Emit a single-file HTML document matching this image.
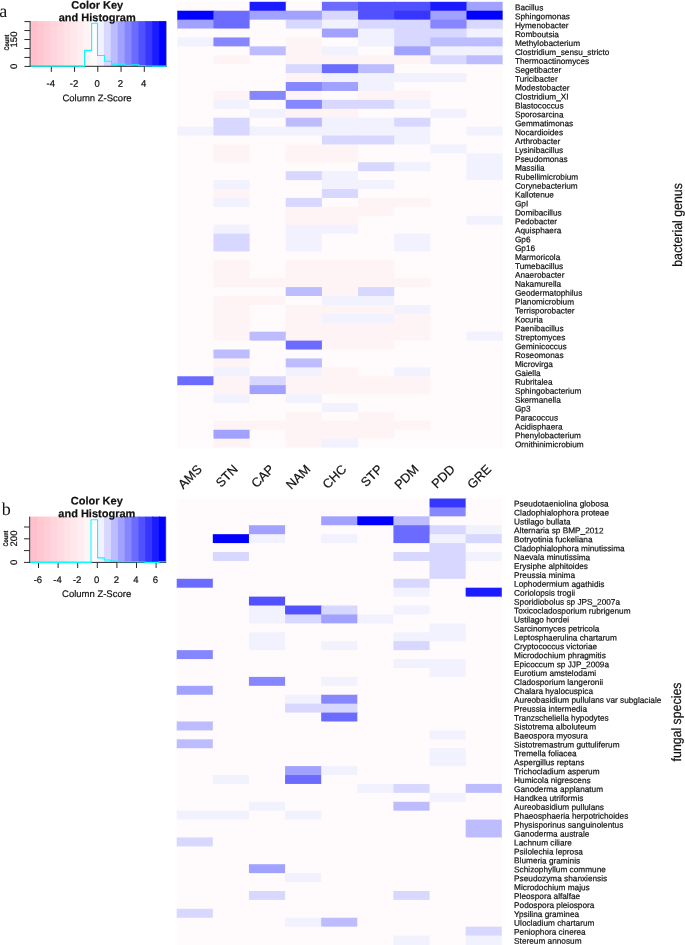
<!DOCTYPE html>
<html lang="en">
<head>
<meta charset="utf-8">
<title>Heatmaps of bacterial genera and fungal species</title>
<style>
html,body{margin:0;padding:0;background:#fff;}
body{width:685px;height:945px;overflow:hidden;}
svg{display:block;font-family:"Liberation Sans",Arial,sans-serif;fill:#111;text-rendering:geometricPrecision;}
svg text{stroke:#111;stroke-width:0.2px;}
.rl text{font-size:8.25px;}
#heat-b-rowlabels text{font-size:8.25px;}
.cl text{font-size:12.7px;}
.tk{font-size:9.5px;}
.cnt{font-size:6.7px;font-weight:bold;}
.ttl{font-size:11px;font-weight:bold;}
.side{font-size:13.5px;}
.pan{font-family:"Liberation Serif","Times New Roman",serif;font-size:18px;stroke:none;}
</style>
</head>
<body>
<figure style="margin:0">
<svg width="685" height="945" viewBox="0 0 685 945">
<rect width="685" height="945" fill="#ffffff"/>
<g id="heat-a-cells">
<rect x="177.30" y="1.80" width="37.15" height="9.92" fill="#fffafb"/>
<rect x="213.45" y="1.80" width="37.15" height="9.92" fill="#fffafb"/>
<rect x="249.60" y="1.80" width="37.15" height="9.92" fill="#1b1bff"/>
<rect x="285.75" y="1.80" width="37.15" height="9.92" fill="#fffafb"/>
<rect x="321.90" y="1.80" width="37.15" height="9.92" fill="#6b6bff"/>
<rect x="358.05" y="1.80" width="37.15" height="9.92" fill="#5151ff"/>
<rect x="394.20" y="1.80" width="37.15" height="9.92" fill="#5151ff"/>
<rect x="430.35" y="1.80" width="37.15" height="9.92" fill="#1b1bff"/>
<rect x="466.50" y="1.80" width="36.15" height="9.92" fill="#a1a1ff"/>
<rect x="177.30" y="10.72" width="37.15" height="9.92" fill="#0000ff"/>
<rect x="213.45" y="10.72" width="37.15" height="9.92" fill="#6b6bff"/>
<rect x="249.60" y="10.72" width="37.15" height="9.92" fill="#a1a1ff"/>
<rect x="285.75" y="10.72" width="37.15" height="9.92" fill="#a1a1ff"/>
<rect x="321.90" y="10.72" width="37.15" height="9.92" fill="#d7d7ff"/>
<rect x="358.05" y="10.72" width="37.15" height="9.92" fill="#5151ff"/>
<rect x="394.20" y="10.72" width="37.15" height="9.92" fill="#3636ff"/>
<rect x="430.35" y="10.72" width="37.15" height="9.92" fill="#a1a1ff"/>
<rect x="466.50" y="10.72" width="36.15" height="9.92" fill="#0000ff"/>
<rect x="177.30" y="19.63" width="37.15" height="9.92" fill="#a1a1ff"/>
<rect x="213.45" y="19.63" width="37.15" height="9.92" fill="#6b6bff"/>
<rect x="249.60" y="19.63" width="37.15" height="9.92" fill="#fffafb"/>
<rect x="285.75" y="19.63" width="37.15" height="9.92" fill="#d7d7ff"/>
<rect x="321.90" y="19.63" width="37.15" height="9.92" fill="#f2f2ff"/>
<rect x="358.05" y="19.63" width="37.15" height="9.92" fill="#d7d7ff"/>
<rect x="394.20" y="19.63" width="37.15" height="9.92" fill="#d7d7ff"/>
<rect x="430.35" y="19.63" width="37.15" height="9.92" fill="#8686ff"/>
<rect x="466.50" y="19.63" width="36.15" height="9.92" fill="#d7d7ff"/>
<rect x="177.30" y="28.55" width="37.15" height="9.92" fill="#fffafb"/>
<rect x="213.45" y="28.55" width="37.15" height="9.92" fill="#fffafb"/>
<rect x="249.60" y="28.55" width="37.15" height="9.92" fill="#fffafb"/>
<rect x="285.75" y="28.55" width="37.15" height="9.92" fill="#fffafb"/>
<rect x="321.90" y="28.55" width="37.15" height="9.92" fill="#a1a1ff"/>
<rect x="358.05" y="28.55" width="37.15" height="9.92" fill="#f2f2ff"/>
<rect x="394.20" y="28.55" width="37.15" height="9.92" fill="#d7d7ff"/>
<rect x="430.35" y="28.55" width="37.15" height="9.92" fill="#d7d7ff"/>
<rect x="466.50" y="28.55" width="36.15" height="9.92" fill="#f2f2ff"/>
<rect x="177.30" y="37.46" width="37.15" height="9.92" fill="#f2f2ff"/>
<rect x="213.45" y="37.46" width="37.15" height="9.92" fill="#8686ff"/>
<rect x="249.60" y="37.46" width="37.15" height="9.92" fill="#fffafb"/>
<rect x="285.75" y="37.46" width="37.15" height="9.92" fill="#fff4f5"/>
<rect x="321.90" y="37.46" width="37.15" height="9.92" fill="#fffafb"/>
<rect x="358.05" y="37.46" width="37.15" height="9.92" fill="#f2f2ff"/>
<rect x="394.20" y="37.46" width="37.15" height="9.92" fill="#d7d7ff"/>
<rect x="430.35" y="37.46" width="37.15" height="9.92" fill="#bcbcff"/>
<rect x="466.50" y="37.46" width="36.15" height="9.92" fill="#bcbcff"/>
<rect x="177.30" y="46.38" width="37.15" height="9.92" fill="#fffafb"/>
<rect x="213.45" y="46.38" width="37.15" height="9.92" fill="#fffafb"/>
<rect x="249.60" y="46.38" width="37.15" height="9.92" fill="#bcbcff"/>
<rect x="285.75" y="46.38" width="37.15" height="9.92" fill="#fff4f5"/>
<rect x="321.90" y="46.38" width="37.15" height="9.92" fill="#f2f2ff"/>
<rect x="358.05" y="46.38" width="37.15" height="9.92" fill="#fffafb"/>
<rect x="394.20" y="46.38" width="37.15" height="9.92" fill="#a1a1ff"/>
<rect x="430.35" y="46.38" width="37.15" height="9.92" fill="#f2f2ff"/>
<rect x="466.50" y="46.38" width="36.15" height="9.92" fill="#f2f2ff"/>
<rect x="177.30" y="55.30" width="37.15" height="9.92" fill="#fffafb"/>
<rect x="213.45" y="55.30" width="37.15" height="9.92" fill="#fff4f5"/>
<rect x="249.60" y="55.30" width="37.15" height="9.92" fill="#fffafb"/>
<rect x="285.75" y="55.30" width="37.15" height="9.92" fill="#fff4f5"/>
<rect x="321.90" y="55.30" width="37.15" height="9.92" fill="#fff4f5"/>
<rect x="358.05" y="55.30" width="37.15" height="9.92" fill="#fff4f5"/>
<rect x="394.20" y="55.30" width="37.15" height="9.92" fill="#fff4f5"/>
<rect x="430.35" y="55.30" width="37.15" height="9.92" fill="#d7d7ff"/>
<rect x="466.50" y="55.30" width="36.15" height="9.92" fill="#bcbcff"/>
<rect x="177.30" y="64.21" width="37.15" height="9.92" fill="#fffafb"/>
<rect x="213.45" y="64.21" width="37.15" height="9.92" fill="#fffafb"/>
<rect x="249.60" y="64.21" width="37.15" height="9.92" fill="#fffafb"/>
<rect x="285.75" y="64.21" width="37.15" height="9.92" fill="#d7d7ff"/>
<rect x="321.90" y="64.21" width="37.15" height="9.92" fill="#6b6bff"/>
<rect x="358.05" y="64.21" width="37.15" height="9.92" fill="#bcbcff"/>
<rect x="394.20" y="64.21" width="37.15" height="9.92" fill="#fffafb"/>
<rect x="430.35" y="64.21" width="37.15" height="9.92" fill="#fffafb"/>
<rect x="466.50" y="64.21" width="36.15" height="9.92" fill="#fffafb"/>
<rect x="177.30" y="73.13" width="37.15" height="9.92" fill="#fffafb"/>
<rect x="213.45" y="73.13" width="37.15" height="9.92" fill="#fffafb"/>
<rect x="249.60" y="73.13" width="37.15" height="9.92" fill="#fffafb"/>
<rect x="285.75" y="73.13" width="37.15" height="9.92" fill="#fff4f5"/>
<rect x="321.90" y="73.13" width="37.15" height="9.92" fill="#f2f2ff"/>
<rect x="358.05" y="73.13" width="37.15" height="9.92" fill="#f2f2ff"/>
<rect x="394.20" y="73.13" width="37.15" height="9.92" fill="#f2f2ff"/>
<rect x="430.35" y="73.13" width="37.15" height="9.92" fill="#f2f2ff"/>
<rect x="466.50" y="73.13" width="36.15" height="9.92" fill="#fffafb"/>
<rect x="177.30" y="82.04" width="37.15" height="9.92" fill="#fffafb"/>
<rect x="213.45" y="82.04" width="37.15" height="9.92" fill="#fffafb"/>
<rect x="249.60" y="82.04" width="37.15" height="9.92" fill="#fffafb"/>
<rect x="285.75" y="82.04" width="37.15" height="9.92" fill="#8686ff"/>
<rect x="321.90" y="82.04" width="37.15" height="9.92" fill="#a1a1ff"/>
<rect x="358.05" y="82.04" width="37.15" height="9.92" fill="#f2f2ff"/>
<rect x="394.20" y="82.04" width="37.15" height="9.92" fill="#fffafb"/>
<rect x="430.35" y="82.04" width="37.15" height="9.92" fill="#fffafb"/>
<rect x="466.50" y="82.04" width="36.15" height="9.92" fill="#fffafb"/>
<rect x="177.30" y="90.96" width="37.15" height="9.92" fill="#fffafb"/>
<rect x="213.45" y="90.96" width="37.15" height="9.92" fill="#fff4f5"/>
<rect x="249.60" y="90.96" width="37.15" height="9.92" fill="#8686ff"/>
<rect x="285.75" y="90.96" width="37.15" height="9.92" fill="#fff4f5"/>
<rect x="321.90" y="90.96" width="37.15" height="9.92" fill="#fffafb"/>
<rect x="358.05" y="90.96" width="37.15" height="9.92" fill="#fff4f5"/>
<rect x="394.20" y="90.96" width="37.15" height="9.92" fill="#fff4f5"/>
<rect x="430.35" y="90.96" width="37.15" height="9.92" fill="#fffafb"/>
<rect x="466.50" y="90.96" width="36.15" height="9.92" fill="#fffafb"/>
<rect x="177.30" y="99.88" width="37.15" height="9.92" fill="#fffafb"/>
<rect x="213.45" y="99.88" width="37.15" height="9.92" fill="#f2f2ff"/>
<rect x="249.60" y="99.88" width="37.15" height="9.92" fill="#fffafb"/>
<rect x="285.75" y="99.88" width="37.15" height="9.92" fill="#8686ff"/>
<rect x="321.90" y="99.88" width="37.15" height="9.92" fill="#d7d7ff"/>
<rect x="358.05" y="99.88" width="37.15" height="9.92" fill="#d7d7ff"/>
<rect x="394.20" y="99.88" width="37.15" height="9.92" fill="#f2f2ff"/>
<rect x="430.35" y="99.88" width="37.15" height="9.92" fill="#fffafb"/>
<rect x="466.50" y="99.88" width="36.15" height="9.92" fill="#fffafb"/>
<rect x="177.30" y="108.79" width="37.15" height="9.92" fill="#fffafb"/>
<rect x="213.45" y="108.79" width="37.15" height="9.92" fill="#fffafb"/>
<rect x="249.60" y="108.79" width="37.15" height="9.92" fill="#f2f2ff"/>
<rect x="285.75" y="108.79" width="37.15" height="9.92" fill="#fff4f5"/>
<rect x="321.90" y="108.79" width="37.15" height="9.92" fill="#fff4f5"/>
<rect x="358.05" y="108.79" width="37.15" height="9.92" fill="#fffafb"/>
<rect x="394.20" y="108.79" width="37.15" height="9.92" fill="#fffafb"/>
<rect x="430.35" y="108.79" width="37.15" height="9.92" fill="#f2f2ff"/>
<rect x="466.50" y="108.79" width="36.15" height="9.92" fill="#fffafb"/>
<rect x="177.30" y="117.71" width="37.15" height="9.92" fill="#fffafb"/>
<rect x="213.45" y="117.71" width="37.15" height="9.92" fill="#d7d7ff"/>
<rect x="249.60" y="117.71" width="37.15" height="9.92" fill="#fffafb"/>
<rect x="285.75" y="117.71" width="37.15" height="9.92" fill="#bcbcff"/>
<rect x="321.90" y="117.71" width="37.15" height="9.92" fill="#f2f2ff"/>
<rect x="358.05" y="117.71" width="37.15" height="9.92" fill="#f2f2ff"/>
<rect x="394.20" y="117.71" width="37.15" height="9.92" fill="#d7d7ff"/>
<rect x="430.35" y="117.71" width="37.15" height="9.92" fill="#fffafb"/>
<rect x="466.50" y="117.71" width="36.15" height="9.92" fill="#fffafb"/>
<rect x="177.30" y="126.62" width="37.15" height="9.92" fill="#f2f2ff"/>
<rect x="213.45" y="126.62" width="37.15" height="9.92" fill="#d7d7ff"/>
<rect x="249.60" y="126.62" width="37.15" height="9.92" fill="#f2f2ff"/>
<rect x="285.75" y="126.62" width="37.15" height="9.92" fill="#f2f2ff"/>
<rect x="321.90" y="126.62" width="37.15" height="9.92" fill="#f2f2ff"/>
<rect x="358.05" y="126.62" width="37.15" height="9.92" fill="#f2f2ff"/>
<rect x="394.20" y="126.62" width="37.15" height="9.92" fill="#f2f2ff"/>
<rect x="430.35" y="126.62" width="37.15" height="9.92" fill="#fffafb"/>
<rect x="466.50" y="126.62" width="36.15" height="9.92" fill="#f2f2ff"/>
<rect x="177.30" y="135.54" width="37.15" height="9.92" fill="#fffafb"/>
<rect x="213.45" y="135.54" width="37.15" height="9.92" fill="#fffafb"/>
<rect x="249.60" y="135.54" width="37.15" height="9.92" fill="#fffafb"/>
<rect x="285.75" y="135.54" width="37.15" height="9.92" fill="#fffafb"/>
<rect x="321.90" y="135.54" width="37.15" height="9.92" fill="#d7d7ff"/>
<rect x="358.05" y="135.54" width="37.15" height="9.92" fill="#d7d7ff"/>
<rect x="394.20" y="135.54" width="37.15" height="9.92" fill="#f2f2ff"/>
<rect x="430.35" y="135.54" width="37.15" height="9.92" fill="#fffafb"/>
<rect x="466.50" y="135.54" width="36.15" height="9.92" fill="#fffafb"/>
<rect x="177.30" y="144.46" width="37.15" height="9.92" fill="#fffafb"/>
<rect x="213.45" y="144.46" width="37.15" height="9.92" fill="#fff4f5"/>
<rect x="249.60" y="144.46" width="37.15" height="9.92" fill="#fffafb"/>
<rect x="285.75" y="144.46" width="37.15" height="9.92" fill="#fff4f5"/>
<rect x="321.90" y="144.46" width="37.15" height="9.92" fill="#fff4f5"/>
<rect x="358.05" y="144.46" width="37.15" height="9.92" fill="#fffafb"/>
<rect x="394.20" y="144.46" width="37.15" height="9.92" fill="#fffafb"/>
<rect x="430.35" y="144.46" width="37.15" height="9.92" fill="#f2f2ff"/>
<rect x="466.50" y="144.46" width="36.15" height="9.92" fill="#fffafb"/>
<rect x="177.30" y="153.37" width="37.15" height="9.92" fill="#fffafb"/>
<rect x="213.45" y="153.37" width="37.15" height="9.92" fill="#fff4f5"/>
<rect x="249.60" y="153.37" width="37.15" height="9.92" fill="#fffafb"/>
<rect x="285.75" y="153.37" width="37.15" height="9.92" fill="#fff4f5"/>
<rect x="321.90" y="153.37" width="37.15" height="9.92" fill="#fff4f5"/>
<rect x="358.05" y="153.37" width="37.15" height="9.92" fill="#fffafb"/>
<rect x="394.20" y="153.37" width="37.15" height="9.92" fill="#fffafb"/>
<rect x="430.35" y="153.37" width="37.15" height="9.92" fill="#fffafb"/>
<rect x="466.50" y="153.37" width="36.15" height="9.92" fill="#f2f2ff"/>
<rect x="177.30" y="162.29" width="37.15" height="9.92" fill="#fffafb"/>
<rect x="213.45" y="162.29" width="37.15" height="9.92" fill="#fffafb"/>
<rect x="249.60" y="162.29" width="37.15" height="9.92" fill="#fffafb"/>
<rect x="285.75" y="162.29" width="37.15" height="9.92" fill="#fffafb"/>
<rect x="321.90" y="162.29" width="37.15" height="9.92" fill="#fffafb"/>
<rect x="358.05" y="162.29" width="37.15" height="9.92" fill="#d7d7ff"/>
<rect x="394.20" y="162.29" width="37.15" height="9.92" fill="#f2f2ff"/>
<rect x="430.35" y="162.29" width="37.15" height="9.92" fill="#fffafb"/>
<rect x="466.50" y="162.29" width="36.15" height="9.92" fill="#f2f2ff"/>
<rect x="177.30" y="171.20" width="37.15" height="9.92" fill="#fffafb"/>
<rect x="213.45" y="171.20" width="37.15" height="9.92" fill="#fffafb"/>
<rect x="249.60" y="171.20" width="37.15" height="9.92" fill="#fffafb"/>
<rect x="285.75" y="171.20" width="37.15" height="9.92" fill="#d7d7ff"/>
<rect x="321.90" y="171.20" width="37.15" height="9.92" fill="#f2f2ff"/>
<rect x="358.05" y="171.20" width="37.15" height="9.92" fill="#fffafb"/>
<rect x="394.20" y="171.20" width="37.15" height="9.92" fill="#fffafb"/>
<rect x="430.35" y="171.20" width="37.15" height="9.92" fill="#fffafb"/>
<rect x="466.50" y="171.20" width="36.15" height="9.92" fill="#f2f2ff"/>
<rect x="177.30" y="180.12" width="37.15" height="9.92" fill="#fffafb"/>
<rect x="213.45" y="180.12" width="37.15" height="9.92" fill="#f2f2ff"/>
<rect x="249.60" y="180.12" width="37.15" height="9.92" fill="#fffafb"/>
<rect x="285.75" y="180.12" width="37.15" height="9.92" fill="#fffafb"/>
<rect x="321.90" y="180.12" width="37.15" height="9.92" fill="#f2f2ff"/>
<rect x="358.05" y="180.12" width="37.15" height="9.92" fill="#f2f2ff"/>
<rect x="394.20" y="180.12" width="37.15" height="9.92" fill="#fffafb"/>
<rect x="430.35" y="180.12" width="37.15" height="9.92" fill="#fffafb"/>
<rect x="466.50" y="180.12" width="36.15" height="9.92" fill="#fffafb"/>
<rect x="177.30" y="189.04" width="37.15" height="9.92" fill="#fffafb"/>
<rect x="213.45" y="189.04" width="37.15" height="9.92" fill="#fff4f5"/>
<rect x="249.60" y="189.04" width="37.15" height="9.92" fill="#fffafb"/>
<rect x="285.75" y="189.04" width="37.15" height="9.92" fill="#fffafb"/>
<rect x="321.90" y="189.04" width="37.15" height="9.92" fill="#d7d7ff"/>
<rect x="358.05" y="189.04" width="37.15" height="9.92" fill="#fffafb"/>
<rect x="394.20" y="189.04" width="37.15" height="9.92" fill="#fffafb"/>
<rect x="430.35" y="189.04" width="37.15" height="9.92" fill="#fffafb"/>
<rect x="466.50" y="189.04" width="36.15" height="9.92" fill="#fffafb"/>
<rect x="177.30" y="197.95" width="37.15" height="9.92" fill="#fffafb"/>
<rect x="213.45" y="197.95" width="37.15" height="9.92" fill="#f2f2ff"/>
<rect x="249.60" y="197.95" width="37.15" height="9.92" fill="#fffafb"/>
<rect x="285.75" y="197.95" width="37.15" height="9.92" fill="#d7d7ff"/>
<rect x="321.90" y="197.95" width="37.15" height="9.92" fill="#fffafb"/>
<rect x="358.05" y="197.95" width="37.15" height="9.92" fill="#fff4f5"/>
<rect x="394.20" y="197.95" width="37.15" height="9.92" fill="#fff4f5"/>
<rect x="430.35" y="197.95" width="37.15" height="9.92" fill="#fffafb"/>
<rect x="466.50" y="197.95" width="36.15" height="9.92" fill="#fffafb"/>
<rect x="177.30" y="206.87" width="37.15" height="9.92" fill="#fffafb"/>
<rect x="213.45" y="206.87" width="37.15" height="9.92" fill="#fffafb"/>
<rect x="249.60" y="206.87" width="37.15" height="9.92" fill="#fffafb"/>
<rect x="285.75" y="206.87" width="37.15" height="9.92" fill="#fff4f5"/>
<rect x="321.90" y="206.87" width="37.15" height="9.92" fill="#fff4f5"/>
<rect x="358.05" y="206.87" width="37.15" height="9.92" fill="#fff4f5"/>
<rect x="394.20" y="206.87" width="37.15" height="9.92" fill="#fffafb"/>
<rect x="430.35" y="206.87" width="37.15" height="9.92" fill="#fffafb"/>
<rect x="466.50" y="206.87" width="36.15" height="9.92" fill="#fffafb"/>
<rect x="177.30" y="215.78" width="37.15" height="9.92" fill="#fffafb"/>
<rect x="213.45" y="215.78" width="37.15" height="9.92" fill="#fffafb"/>
<rect x="249.60" y="215.78" width="37.15" height="9.92" fill="#fffafb"/>
<rect x="285.75" y="215.78" width="37.15" height="9.92" fill="#fff4f5"/>
<rect x="321.90" y="215.78" width="37.15" height="9.92" fill="#fff4f5"/>
<rect x="358.05" y="215.78" width="37.15" height="9.92" fill="#fffafb"/>
<rect x="394.20" y="215.78" width="37.15" height="9.92" fill="#fffafb"/>
<rect x="430.35" y="215.78" width="37.15" height="9.92" fill="#fffafb"/>
<rect x="466.50" y="215.78" width="36.15" height="9.92" fill="#f2f2ff"/>
<rect x="177.30" y="224.70" width="37.15" height="9.92" fill="#fffafb"/>
<rect x="213.45" y="224.70" width="37.15" height="9.92" fill="#f2f2ff"/>
<rect x="249.60" y="224.70" width="37.15" height="9.92" fill="#fffafb"/>
<rect x="285.75" y="224.70" width="37.15" height="9.92" fill="#f2f2ff"/>
<rect x="321.90" y="224.70" width="37.15" height="9.92" fill="#f2f2ff"/>
<rect x="358.05" y="224.70" width="37.15" height="9.92" fill="#fffafb"/>
<rect x="394.20" y="224.70" width="37.15" height="9.92" fill="#fffafb"/>
<rect x="430.35" y="224.70" width="37.15" height="9.92" fill="#fffafb"/>
<rect x="466.50" y="224.70" width="36.15" height="9.92" fill="#fffafb"/>
<rect x="177.30" y="233.62" width="37.15" height="9.92" fill="#fffafb"/>
<rect x="213.45" y="233.62" width="37.15" height="9.92" fill="#d7d7ff"/>
<rect x="249.60" y="233.62" width="37.15" height="9.92" fill="#fffafb"/>
<rect x="285.75" y="233.62" width="37.15" height="9.92" fill="#f2f2ff"/>
<rect x="321.90" y="233.62" width="37.15" height="9.92" fill="#fffafb"/>
<rect x="358.05" y="233.62" width="37.15" height="9.92" fill="#fffafb"/>
<rect x="394.20" y="233.62" width="37.15" height="9.92" fill="#f2f2ff"/>
<rect x="430.35" y="233.62" width="37.15" height="9.92" fill="#fffafb"/>
<rect x="466.50" y="233.62" width="36.15" height="9.92" fill="#fffafb"/>
<rect x="177.30" y="242.53" width="37.15" height="9.92" fill="#fffafb"/>
<rect x="213.45" y="242.53" width="37.15" height="9.92" fill="#d7d7ff"/>
<rect x="249.60" y="242.53" width="37.15" height="9.92" fill="#fffafb"/>
<rect x="285.75" y="242.53" width="37.15" height="9.92" fill="#f2f2ff"/>
<rect x="321.90" y="242.53" width="37.15" height="9.92" fill="#fffafb"/>
<rect x="358.05" y="242.53" width="37.15" height="9.92" fill="#fffafb"/>
<rect x="394.20" y="242.53" width="37.15" height="9.92" fill="#f2f2ff"/>
<rect x="430.35" y="242.53" width="37.15" height="9.92" fill="#fffafb"/>
<rect x="466.50" y="242.53" width="36.15" height="9.92" fill="#fffafb"/>
<rect x="177.30" y="251.45" width="37.15" height="9.92" fill="#fffafb"/>
<rect x="213.45" y="251.45" width="37.15" height="9.92" fill="#fffafb"/>
<rect x="249.60" y="251.45" width="37.15" height="9.92" fill="#fffafb"/>
<rect x="285.75" y="251.45" width="37.15" height="9.92" fill="#fffafb"/>
<rect x="321.90" y="251.45" width="37.15" height="9.92" fill="#fffafb"/>
<rect x="358.05" y="251.45" width="37.15" height="9.92" fill="#fffafb"/>
<rect x="394.20" y="251.45" width="37.15" height="9.92" fill="#fffafb"/>
<rect x="430.35" y="251.45" width="37.15" height="9.92" fill="#fffafb"/>
<rect x="466.50" y="251.45" width="36.15" height="9.92" fill="#fffafb"/>
<rect x="177.30" y="260.36" width="37.15" height="9.92" fill="#fffafb"/>
<rect x="213.45" y="260.36" width="37.15" height="9.92" fill="#fff4f5"/>
<rect x="249.60" y="260.36" width="37.15" height="9.92" fill="#fffafb"/>
<rect x="285.75" y="260.36" width="37.15" height="9.92" fill="#fff4f5"/>
<rect x="321.90" y="260.36" width="37.15" height="9.92" fill="#fff4f5"/>
<rect x="358.05" y="260.36" width="37.15" height="9.92" fill="#fff4f5"/>
<rect x="394.20" y="260.36" width="37.15" height="9.92" fill="#fffafb"/>
<rect x="430.35" y="260.36" width="37.15" height="9.92" fill="#fffafb"/>
<rect x="466.50" y="260.36" width="36.15" height="9.92" fill="#fffafb"/>
<rect x="177.30" y="269.28" width="37.15" height="9.92" fill="#fffafb"/>
<rect x="213.45" y="269.28" width="37.15" height="9.92" fill="#fff4f5"/>
<rect x="249.60" y="269.28" width="37.15" height="9.92" fill="#fffafb"/>
<rect x="285.75" y="269.28" width="37.15" height="9.92" fill="#fff4f5"/>
<rect x="321.90" y="269.28" width="37.15" height="9.92" fill="#fff4f5"/>
<rect x="358.05" y="269.28" width="37.15" height="9.92" fill="#fff4f5"/>
<rect x="394.20" y="269.28" width="37.15" height="9.92" fill="#fffafb"/>
<rect x="430.35" y="269.28" width="37.15" height="9.92" fill="#fffafb"/>
<rect x="466.50" y="269.28" width="36.15" height="9.92" fill="#fffafb"/>
<rect x="177.30" y="278.20" width="37.15" height="9.92" fill="#fffafb"/>
<rect x="213.45" y="278.20" width="37.15" height="9.92" fill="#fff4f5"/>
<rect x="249.60" y="278.20" width="37.15" height="9.92" fill="#fff4f5"/>
<rect x="285.75" y="278.20" width="37.15" height="9.92" fill="#fff4f5"/>
<rect x="321.90" y="278.20" width="37.15" height="9.92" fill="#fff4f5"/>
<rect x="358.05" y="278.20" width="37.15" height="9.92" fill="#fff4f5"/>
<rect x="394.20" y="278.20" width="37.15" height="9.92" fill="#fff4f5"/>
<rect x="430.35" y="278.20" width="37.15" height="9.92" fill="#fffafb"/>
<rect x="466.50" y="278.20" width="36.15" height="9.92" fill="#fffafb"/>
<rect x="177.30" y="287.11" width="37.15" height="9.92" fill="#fffafb"/>
<rect x="213.45" y="287.11" width="37.15" height="9.92" fill="#fffafb"/>
<rect x="249.60" y="287.11" width="37.15" height="9.92" fill="#fffafb"/>
<rect x="285.75" y="287.11" width="37.15" height="9.92" fill="#bcbcff"/>
<rect x="321.90" y="287.11" width="37.15" height="9.92" fill="#fff4f5"/>
<rect x="358.05" y="287.11" width="37.15" height="9.92" fill="#d7d7ff"/>
<rect x="394.20" y="287.11" width="37.15" height="9.92" fill="#fffafb"/>
<rect x="430.35" y="287.11" width="37.15" height="9.92" fill="#fffafb"/>
<rect x="466.50" y="287.11" width="36.15" height="9.92" fill="#fffafb"/>
<rect x="177.30" y="296.03" width="37.15" height="9.92" fill="#fffafb"/>
<rect x="213.45" y="296.03" width="37.15" height="9.92" fill="#fff4f5"/>
<rect x="249.60" y="296.03" width="37.15" height="9.92" fill="#fff4f5"/>
<rect x="285.75" y="296.03" width="37.15" height="9.92" fill="#fffafb"/>
<rect x="321.90" y="296.03" width="37.15" height="9.92" fill="#f2f2ff"/>
<rect x="358.05" y="296.03" width="37.15" height="9.92" fill="#f2f2ff"/>
<rect x="394.20" y="296.03" width="37.15" height="9.92" fill="#fffafb"/>
<rect x="430.35" y="296.03" width="37.15" height="9.92" fill="#fffafb"/>
<rect x="466.50" y="296.03" width="36.15" height="9.92" fill="#fffafb"/>
<rect x="177.30" y="304.94" width="37.15" height="9.92" fill="#fffafb"/>
<rect x="213.45" y="304.94" width="37.15" height="9.92" fill="#fff4f5"/>
<rect x="249.60" y="304.94" width="37.15" height="9.92" fill="#fffafb"/>
<rect x="285.75" y="304.94" width="37.15" height="9.92" fill="#fff4f5"/>
<rect x="321.90" y="304.94" width="37.15" height="9.92" fill="#fff4f5"/>
<rect x="358.05" y="304.94" width="37.15" height="9.92" fill="#fff4f5"/>
<rect x="394.20" y="304.94" width="37.15" height="9.92" fill="#f2f2ff"/>
<rect x="430.35" y="304.94" width="37.15" height="9.92" fill="#fffafb"/>
<rect x="466.50" y="304.94" width="36.15" height="9.92" fill="#fffafb"/>
<rect x="177.30" y="313.86" width="37.15" height="9.92" fill="#fffafb"/>
<rect x="213.45" y="313.86" width="37.15" height="9.92" fill="#fff4f5"/>
<rect x="249.60" y="313.86" width="37.15" height="9.92" fill="#fffafb"/>
<rect x="285.75" y="313.86" width="37.15" height="9.92" fill="#fff4f5"/>
<rect x="321.90" y="313.86" width="37.15" height="9.92" fill="#f2f2ff"/>
<rect x="358.05" y="313.86" width="37.15" height="9.92" fill="#f2f2ff"/>
<rect x="394.20" y="313.86" width="37.15" height="9.92" fill="#fff4f5"/>
<rect x="430.35" y="313.86" width="37.15" height="9.92" fill="#fffafb"/>
<rect x="466.50" y="313.86" width="36.15" height="9.92" fill="#fffafb"/>
<rect x="177.30" y="322.78" width="37.15" height="9.92" fill="#fffafb"/>
<rect x="213.45" y="322.78" width="37.15" height="9.92" fill="#fff4f5"/>
<rect x="249.60" y="322.78" width="37.15" height="9.92" fill="#fffafb"/>
<rect x="285.75" y="322.78" width="37.15" height="9.92" fill="#fff4f5"/>
<rect x="321.90" y="322.78" width="37.15" height="9.92" fill="#fff4f5"/>
<rect x="358.05" y="322.78" width="37.15" height="9.92" fill="#fff4f5"/>
<rect x="394.20" y="322.78" width="37.15" height="9.92" fill="#fff4f5"/>
<rect x="430.35" y="322.78" width="37.15" height="9.92" fill="#fffafb"/>
<rect x="466.50" y="322.78" width="36.15" height="9.92" fill="#fffafb"/>
<rect x="177.30" y="331.69" width="37.15" height="9.92" fill="#fffafb"/>
<rect x="213.45" y="331.69" width="37.15" height="9.92" fill="#fff4f5"/>
<rect x="249.60" y="331.69" width="37.15" height="9.92" fill="#bcbcff"/>
<rect x="285.75" y="331.69" width="37.15" height="9.92" fill="#fff4f5"/>
<rect x="321.90" y="331.69" width="37.15" height="9.92" fill="#fff4f5"/>
<rect x="358.05" y="331.69" width="37.15" height="9.92" fill="#fff4f5"/>
<rect x="394.20" y="331.69" width="37.15" height="9.92" fill="#fff4f5"/>
<rect x="430.35" y="331.69" width="37.15" height="9.92" fill="#fffafb"/>
<rect x="466.50" y="331.69" width="36.15" height="9.92" fill="#f2f2ff"/>
<rect x="177.30" y="340.61" width="37.15" height="9.92" fill="#fffafb"/>
<rect x="213.45" y="340.61" width="37.15" height="9.92" fill="#fffafb"/>
<rect x="249.60" y="340.61" width="37.15" height="9.92" fill="#fffafb"/>
<rect x="285.75" y="340.61" width="37.15" height="9.92" fill="#6b6bff"/>
<rect x="321.90" y="340.61" width="37.15" height="9.92" fill="#fff4f5"/>
<rect x="358.05" y="340.61" width="37.15" height="9.92" fill="#fff4f5"/>
<rect x="394.20" y="340.61" width="37.15" height="9.92" fill="#fffafb"/>
<rect x="430.35" y="340.61" width="37.15" height="9.92" fill="#fffafb"/>
<rect x="466.50" y="340.61" width="36.15" height="9.92" fill="#fffafb"/>
<rect x="177.30" y="349.52" width="37.15" height="9.92" fill="#fffafb"/>
<rect x="213.45" y="349.52" width="37.15" height="9.92" fill="#bcbcff"/>
<rect x="249.60" y="349.52" width="37.15" height="9.92" fill="#fffafb"/>
<rect x="285.75" y="349.52" width="37.15" height="9.92" fill="#fffafb"/>
<rect x="321.90" y="349.52" width="37.15" height="9.92" fill="#fffafb"/>
<rect x="358.05" y="349.52" width="37.15" height="9.92" fill="#fffafb"/>
<rect x="394.20" y="349.52" width="37.15" height="9.92" fill="#fffafb"/>
<rect x="430.35" y="349.52" width="37.15" height="9.92" fill="#fffafb"/>
<rect x="466.50" y="349.52" width="36.15" height="9.92" fill="#fffafb"/>
<rect x="177.30" y="358.44" width="37.15" height="9.92" fill="#fffafb"/>
<rect x="213.45" y="358.44" width="37.15" height="9.92" fill="#fff4f5"/>
<rect x="249.60" y="358.44" width="37.15" height="9.92" fill="#fffafb"/>
<rect x="285.75" y="358.44" width="37.15" height="9.92" fill="#bcbcff"/>
<rect x="321.90" y="358.44" width="37.15" height="9.92" fill="#fffafb"/>
<rect x="358.05" y="358.44" width="37.15" height="9.92" fill="#fffafb"/>
<rect x="394.20" y="358.44" width="37.15" height="9.92" fill="#fffafb"/>
<rect x="430.35" y="358.44" width="37.15" height="9.92" fill="#fffafb"/>
<rect x="466.50" y="358.44" width="36.15" height="9.92" fill="#fffafb"/>
<rect x="177.30" y="367.36" width="37.15" height="9.92" fill="#fffafb"/>
<rect x="213.45" y="367.36" width="37.15" height="9.92" fill="#f2f2ff"/>
<rect x="249.60" y="367.36" width="37.15" height="9.92" fill="#fffafb"/>
<rect x="285.75" y="367.36" width="37.15" height="9.92" fill="#f2f2ff"/>
<rect x="321.90" y="367.36" width="37.15" height="9.92" fill="#fff4f5"/>
<rect x="358.05" y="367.36" width="37.15" height="9.92" fill="#fffafb"/>
<rect x="394.20" y="367.36" width="37.15" height="9.92" fill="#f2f2ff"/>
<rect x="430.35" y="367.36" width="37.15" height="9.92" fill="#fffafb"/>
<rect x="466.50" y="367.36" width="36.15" height="9.92" fill="#fffafb"/>
<rect x="177.30" y="376.27" width="37.15" height="9.92" fill="#6b6bff"/>
<rect x="213.45" y="376.27" width="37.15" height="9.92" fill="#fff4f5"/>
<rect x="249.60" y="376.27" width="37.15" height="9.92" fill="#d7d7ff"/>
<rect x="285.75" y="376.27" width="37.15" height="9.92" fill="#fff4f5"/>
<rect x="321.90" y="376.27" width="37.15" height="9.92" fill="#fff4f5"/>
<rect x="358.05" y="376.27" width="37.15" height="9.92" fill="#fff4f5"/>
<rect x="394.20" y="376.27" width="37.15" height="9.92" fill="#fff4f5"/>
<rect x="430.35" y="376.27" width="37.15" height="9.92" fill="#fffafb"/>
<rect x="466.50" y="376.27" width="36.15" height="9.92" fill="#fffafb"/>
<rect x="177.30" y="385.19" width="37.15" height="9.92" fill="#fffafb"/>
<rect x="213.45" y="385.19" width="37.15" height="9.92" fill="#fff4f5"/>
<rect x="249.60" y="385.19" width="37.15" height="9.92" fill="#a1a1ff"/>
<rect x="285.75" y="385.19" width="37.15" height="9.92" fill="#fff4f5"/>
<rect x="321.90" y="385.19" width="37.15" height="9.92" fill="#fff4f5"/>
<rect x="358.05" y="385.19" width="37.15" height="9.92" fill="#fff4f5"/>
<rect x="394.20" y="385.19" width="37.15" height="9.92" fill="#fff4f5"/>
<rect x="430.35" y="385.19" width="37.15" height="9.92" fill="#fffafb"/>
<rect x="466.50" y="385.19" width="36.15" height="9.92" fill="#fffafb"/>
<rect x="177.30" y="394.10" width="37.15" height="9.92" fill="#fffafb"/>
<rect x="213.45" y="394.10" width="37.15" height="9.92" fill="#f2f2ff"/>
<rect x="249.60" y="394.10" width="37.15" height="9.92" fill="#fffafb"/>
<rect x="285.75" y="394.10" width="37.15" height="9.92" fill="#f2f2ff"/>
<rect x="321.90" y="394.10" width="37.15" height="9.92" fill="#fffafb"/>
<rect x="358.05" y="394.10" width="37.15" height="9.92" fill="#fffafb"/>
<rect x="394.20" y="394.10" width="37.15" height="9.92" fill="#fffafb"/>
<rect x="430.35" y="394.10" width="37.15" height="9.92" fill="#fffafb"/>
<rect x="466.50" y="394.10" width="36.15" height="9.92" fill="#fffafb"/>
<rect x="177.30" y="403.02" width="37.15" height="9.92" fill="#fffafb"/>
<rect x="213.45" y="403.02" width="37.15" height="9.92" fill="#fffafb"/>
<rect x="249.60" y="403.02" width="37.15" height="9.92" fill="#fffafb"/>
<rect x="285.75" y="403.02" width="37.15" height="9.92" fill="#fffafb"/>
<rect x="321.90" y="403.02" width="37.15" height="9.92" fill="#f2f2ff"/>
<rect x="358.05" y="403.02" width="37.15" height="9.92" fill="#fffafb"/>
<rect x="394.20" y="403.02" width="37.15" height="9.92" fill="#fffafb"/>
<rect x="430.35" y="403.02" width="37.15" height="9.92" fill="#fffafb"/>
<rect x="466.50" y="403.02" width="36.15" height="9.92" fill="#fffafb"/>
<rect x="177.30" y="411.94" width="37.15" height="9.92" fill="#fffafb"/>
<rect x="213.45" y="411.94" width="37.15" height="9.92" fill="#fffafb"/>
<rect x="249.60" y="411.94" width="37.15" height="9.92" fill="#fffafb"/>
<rect x="285.75" y="411.94" width="37.15" height="9.92" fill="#fff4f5"/>
<rect x="321.90" y="411.94" width="37.15" height="9.92" fill="#fffafb"/>
<rect x="358.05" y="411.94" width="37.15" height="9.92" fill="#fff4f5"/>
<rect x="394.20" y="411.94" width="37.15" height="9.92" fill="#fffafb"/>
<rect x="430.35" y="411.94" width="37.15" height="9.92" fill="#fffafb"/>
<rect x="466.50" y="411.94" width="36.15" height="9.92" fill="#fffafb"/>
<rect x="177.30" y="420.85" width="37.15" height="9.92" fill="#fffafb"/>
<rect x="213.45" y="420.85" width="37.15" height="9.92" fill="#fff4f5"/>
<rect x="249.60" y="420.85" width="37.15" height="9.92" fill="#fff4f5"/>
<rect x="285.75" y="420.85" width="37.15" height="9.92" fill="#fff4f5"/>
<rect x="321.90" y="420.85" width="37.15" height="9.92" fill="#fff4f5"/>
<rect x="358.05" y="420.85" width="37.15" height="9.92" fill="#fff4f5"/>
<rect x="394.20" y="420.85" width="37.15" height="9.92" fill="#fff4f5"/>
<rect x="430.35" y="420.85" width="37.15" height="9.92" fill="#fffafb"/>
<rect x="466.50" y="420.85" width="36.15" height="9.92" fill="#fffafb"/>
<rect x="177.30" y="429.77" width="37.15" height="9.92" fill="#fffafb"/>
<rect x="213.45" y="429.77" width="37.15" height="9.92" fill="#a1a1ff"/>
<rect x="249.60" y="429.77" width="37.15" height="9.92" fill="#fffafb"/>
<rect x="285.75" y="429.77" width="37.15" height="9.92" fill="#fff4f5"/>
<rect x="321.90" y="429.77" width="37.15" height="9.92" fill="#fff4f5"/>
<rect x="358.05" y="429.77" width="37.15" height="9.92" fill="#fff4f5"/>
<rect x="394.20" y="429.77" width="37.15" height="9.92" fill="#fffafb"/>
<rect x="430.35" y="429.77" width="37.15" height="9.92" fill="#fffafb"/>
<rect x="466.50" y="429.77" width="36.15" height="9.92" fill="#fffafb"/>
<rect x="177.30" y="438.68" width="37.15" height="8.92" fill="#fffafb"/>
<rect x="213.45" y="438.68" width="37.15" height="8.92" fill="#fff4f5"/>
<rect x="249.60" y="438.68" width="37.15" height="8.92" fill="#fffafb"/>
<rect x="285.75" y="438.68" width="37.15" height="8.92" fill="#fff4f5"/>
<rect x="321.90" y="438.68" width="37.15" height="8.92" fill="#f2f2ff"/>
<rect x="358.05" y="438.68" width="37.15" height="8.92" fill="#fffafb"/>
<rect x="394.20" y="438.68" width="37.15" height="8.92" fill="#fffafb"/>
<rect x="430.35" y="438.68" width="37.15" height="8.92" fill="#fffafb"/>
<rect x="466.50" y="438.68" width="36.15" height="8.92" fill="#fffafb"/>
</g>
<g id="heat-a-rowlabels" class="rl">
<text transform="translate(514.9 10.36) rotate(0.04)">Bacillus</text>
<text transform="translate(514.9 19.27) rotate(0.04)">Sphingomonas</text>
<text transform="translate(514.9 28.19) rotate(0.04)">Hymenobacter</text>
<text transform="translate(514.9 37.11) rotate(0.04)">Romboutsia</text>
<text transform="translate(514.9 46.02) rotate(0.04)">Methylobacterium</text>
<text transform="translate(514.9 54.94) rotate(0.04)">Clostridium_sensu_stricto</text>
<text transform="translate(514.9 63.85) rotate(0.04)">Thermoactinomyces</text>
<text transform="translate(514.9 72.77) rotate(0.04)">Segetibacter</text>
<text transform="translate(514.9 81.69) rotate(0.04)">Turicibacter</text>
<text transform="translate(514.9 90.60) rotate(0.04)">Modestobacter</text>
<text transform="translate(514.9 99.52) rotate(0.04)">Clostridium_XI</text>
<text transform="translate(514.9 108.43) rotate(0.04)">Blastococcus</text>
<text transform="translate(514.9 117.35) rotate(0.04)">Sporosarcina</text>
<text transform="translate(514.9 126.27) rotate(0.04)">Gemmatimonas</text>
<text transform="translate(514.9 135.18) rotate(0.04)">Nocardioides</text>
<text transform="translate(514.9 144.10) rotate(0.04)">Arthrobacter</text>
<text transform="translate(514.9 153.01) rotate(0.04)">Lysinibacillus</text>
<text transform="translate(514.9 161.93) rotate(0.04)">Pseudomonas</text>
<text transform="translate(514.9 170.85) rotate(0.04)">Massilia</text>
<text transform="translate(514.9 179.76) rotate(0.04)">Rubellimicrobium</text>
<text transform="translate(514.9 188.68) rotate(0.04)">Corynebacterium</text>
<text transform="translate(514.9 197.59) rotate(0.04)">Kallotenue</text>
<text transform="translate(514.9 206.51) rotate(0.04)">GpI</text>
<text transform="translate(514.9 215.43) rotate(0.04)">Domibacillus</text>
<text transform="translate(514.9 224.34) rotate(0.04)">Pedobacter</text>
<text transform="translate(514.9 233.26) rotate(0.04)">Aquisphaera</text>
<text transform="translate(514.9 242.17) rotate(0.04)">Gp6</text>
<text transform="translate(514.9 251.09) rotate(0.04)">Gp16</text>
<text transform="translate(514.9 260.01) rotate(0.04)">Marmoricola</text>
<text transform="translate(514.9 268.92) rotate(0.04)">Tumebacillus</text>
<text transform="translate(514.9 277.84) rotate(0.04)">Anaerobacter</text>
<text transform="translate(514.9 286.75) rotate(0.04)">Nakamurella</text>
<text transform="translate(514.9 295.67) rotate(0.04)">Geodermatophilus</text>
<text transform="translate(514.9 304.59) rotate(0.04)">Planomicrobium</text>
<text transform="translate(514.9 313.50) rotate(0.04)">Terrisporobacter</text>
<text transform="translate(514.9 322.42) rotate(0.04)">Kocuria</text>
<text transform="translate(514.9 331.33) rotate(0.04)">Paenibacillus</text>
<text transform="translate(514.9 340.25) rotate(0.04)">Streptomyces</text>
<text transform="translate(514.9 349.17) rotate(0.04)">Geminicoccus</text>
<text transform="translate(514.9 358.08) rotate(0.04)">Roseomonas</text>
<text transform="translate(514.9 367.00) rotate(0.04)">Microvirga</text>
<text transform="translate(514.9 375.91) rotate(0.04)">Gaiella</text>
<text transform="translate(514.9 384.83) rotate(0.04)">Rubritalea</text>
<text transform="translate(514.9 393.75) rotate(0.04)">Sphingobacterium</text>
<text transform="translate(514.9 402.66) rotate(0.04)">Skermanella</text>
<text transform="translate(514.9 411.58) rotate(0.04)">Gp3</text>
<text transform="translate(514.9 420.49) rotate(0.04)">Paracoccus</text>
<text transform="translate(514.9 429.41) rotate(0.04)">Acidisphaera</text>
<text transform="translate(514.9 438.33) rotate(0.04)">Phenylobacterium</text>
<text transform="translate(514.9 447.24) rotate(0.04)">Ornithinimicrobium</text>
</g>
<g id="heat-b-cells">
<rect x="176.70" y="498.50" width="37.12" height="9.92" fill="#fffafb"/>
<rect x="212.82" y="498.50" width="37.12" height="9.92" fill="#fffafb"/>
<rect x="248.94" y="498.50" width="37.12" height="9.92" fill="#fffafb"/>
<rect x="285.06" y="498.50" width="37.12" height="9.92" fill="#fffafb"/>
<rect x="321.18" y="498.50" width="37.12" height="9.92" fill="#fffafb"/>
<rect x="357.30" y="498.50" width="37.12" height="9.92" fill="#fffafb"/>
<rect x="393.42" y="498.50" width="37.12" height="9.92" fill="#fffafb"/>
<rect x="429.54" y="498.50" width="37.12" height="9.92" fill="#3636ff"/>
<rect x="465.66" y="498.50" width="36.12" height="9.92" fill="#fffafb"/>
<rect x="176.70" y="507.42" width="37.12" height="9.92" fill="#fffafb"/>
<rect x="212.82" y="507.42" width="37.12" height="9.92" fill="#fffafb"/>
<rect x="248.94" y="507.42" width="37.12" height="9.92" fill="#fffafb"/>
<rect x="285.06" y="507.42" width="37.12" height="9.92" fill="#fffafb"/>
<rect x="321.18" y="507.42" width="37.12" height="9.92" fill="#fffafb"/>
<rect x="357.30" y="507.42" width="37.12" height="9.92" fill="#fffafb"/>
<rect x="393.42" y="507.42" width="37.12" height="9.92" fill="#fffafb"/>
<rect x="429.54" y="507.42" width="37.12" height="9.92" fill="#8686ff"/>
<rect x="465.66" y="507.42" width="36.12" height="9.92" fill="#fffafb"/>
<rect x="176.70" y="516.34" width="37.12" height="9.92" fill="#fffafb"/>
<rect x="212.82" y="516.34" width="37.12" height="9.92" fill="#fffafb"/>
<rect x="248.94" y="516.34" width="37.12" height="9.92" fill="#fffafb"/>
<rect x="285.06" y="516.34" width="37.12" height="9.92" fill="#fffafb"/>
<rect x="321.18" y="516.34" width="37.12" height="9.92" fill="#a1a1ff"/>
<rect x="357.30" y="516.34" width="37.12" height="9.92" fill="#0000ff"/>
<rect x="393.42" y="516.34" width="37.12" height="9.92" fill="#bcbcff"/>
<rect x="429.54" y="516.34" width="37.12" height="9.92" fill="#fffafb"/>
<rect x="465.66" y="516.34" width="36.12" height="9.92" fill="#fffafb"/>
<rect x="176.70" y="525.26" width="37.12" height="9.92" fill="#fffafb"/>
<rect x="212.82" y="525.26" width="37.12" height="9.92" fill="#fffafb"/>
<rect x="248.94" y="525.26" width="37.12" height="9.92" fill="#a1a1ff"/>
<rect x="285.06" y="525.26" width="37.12" height="9.92" fill="#fffafb"/>
<rect x="321.18" y="525.26" width="37.12" height="9.92" fill="#fffafb"/>
<rect x="357.30" y="525.26" width="37.12" height="9.92" fill="#fffafb"/>
<rect x="393.42" y="525.26" width="37.12" height="9.92" fill="#6b6bff"/>
<rect x="429.54" y="525.26" width="37.12" height="9.92" fill="#d7d7ff"/>
<rect x="465.66" y="525.26" width="36.12" height="9.92" fill="#f2f2ff"/>
<rect x="176.70" y="534.18" width="37.12" height="9.92" fill="#fffafb"/>
<rect x="212.82" y="534.18" width="37.12" height="9.92" fill="#0000ff"/>
<rect x="248.94" y="534.18" width="37.12" height="9.92" fill="#f2f2ff"/>
<rect x="285.06" y="534.18" width="37.12" height="9.92" fill="#fffafb"/>
<rect x="321.18" y="534.18" width="37.12" height="9.92" fill="#f2f2ff"/>
<rect x="357.30" y="534.18" width="37.12" height="9.92" fill="#fffafb"/>
<rect x="393.42" y="534.18" width="37.12" height="9.92" fill="#6b6bff"/>
<rect x="429.54" y="534.18" width="37.12" height="9.92" fill="#f2f2ff"/>
<rect x="465.66" y="534.18" width="36.12" height="9.92" fill="#d7d7ff"/>
<rect x="176.70" y="543.10" width="37.12" height="9.92" fill="#fffafb"/>
<rect x="212.82" y="543.10" width="37.12" height="9.92" fill="#fffafb"/>
<rect x="248.94" y="543.10" width="37.12" height="9.92" fill="#fffafb"/>
<rect x="285.06" y="543.10" width="37.12" height="9.92" fill="#fffafb"/>
<rect x="321.18" y="543.10" width="37.12" height="9.92" fill="#fffafb"/>
<rect x="357.30" y="543.10" width="37.12" height="9.92" fill="#fffafb"/>
<rect x="393.42" y="543.10" width="37.12" height="9.92" fill="#fffafb"/>
<rect x="429.54" y="543.10" width="37.12" height="9.92" fill="#d7d7ff"/>
<rect x="465.66" y="543.10" width="36.12" height="9.92" fill="#fffafb"/>
<rect x="176.70" y="552.02" width="37.12" height="9.92" fill="#fffafb"/>
<rect x="212.82" y="552.02" width="37.12" height="9.92" fill="#d7d7ff"/>
<rect x="248.94" y="552.02" width="37.12" height="9.92" fill="#fffafb"/>
<rect x="285.06" y="552.02" width="37.12" height="9.92" fill="#fffafb"/>
<rect x="321.18" y="552.02" width="37.12" height="9.92" fill="#fffafb"/>
<rect x="357.30" y="552.02" width="37.12" height="9.92" fill="#fffafb"/>
<rect x="393.42" y="552.02" width="37.12" height="9.92" fill="#d7d7ff"/>
<rect x="429.54" y="552.02" width="37.12" height="9.92" fill="#d7d7ff"/>
<rect x="465.66" y="552.02" width="36.12" height="9.92" fill="#f2f2ff"/>
<rect x="176.70" y="560.94" width="37.12" height="9.92" fill="#fffafb"/>
<rect x="212.82" y="560.94" width="37.12" height="9.92" fill="#fffafb"/>
<rect x="248.94" y="560.94" width="37.12" height="9.92" fill="#fffafb"/>
<rect x="285.06" y="560.94" width="37.12" height="9.92" fill="#fffafb"/>
<rect x="321.18" y="560.94" width="37.12" height="9.92" fill="#fffafb"/>
<rect x="357.30" y="560.94" width="37.12" height="9.92" fill="#fffafb"/>
<rect x="393.42" y="560.94" width="37.12" height="9.92" fill="#fffafb"/>
<rect x="429.54" y="560.94" width="37.12" height="9.92" fill="#d7d7ff"/>
<rect x="465.66" y="560.94" width="36.12" height="9.92" fill="#fffafb"/>
<rect x="176.70" y="569.86" width="37.12" height="9.92" fill="#fffafb"/>
<rect x="212.82" y="569.86" width="37.12" height="9.92" fill="#fffafb"/>
<rect x="248.94" y="569.86" width="37.12" height="9.92" fill="#fffafb"/>
<rect x="285.06" y="569.86" width="37.12" height="9.92" fill="#fffafb"/>
<rect x="321.18" y="569.86" width="37.12" height="9.92" fill="#fffafb"/>
<rect x="357.30" y="569.86" width="37.12" height="9.92" fill="#fffafb"/>
<rect x="393.42" y="569.86" width="37.12" height="9.92" fill="#fffafb"/>
<rect x="429.54" y="569.86" width="37.12" height="9.92" fill="#d7d7ff"/>
<rect x="465.66" y="569.86" width="36.12" height="9.92" fill="#fffafb"/>
<rect x="176.70" y="578.78" width="37.12" height="9.92" fill="#6b6bff"/>
<rect x="212.82" y="578.78" width="37.12" height="9.92" fill="#fffafb"/>
<rect x="248.94" y="578.78" width="37.12" height="9.92" fill="#fffafb"/>
<rect x="285.06" y="578.78" width="37.12" height="9.92" fill="#fffafb"/>
<rect x="321.18" y="578.78" width="37.12" height="9.92" fill="#fffafb"/>
<rect x="357.30" y="578.78" width="37.12" height="9.92" fill="#fffafb"/>
<rect x="393.42" y="578.78" width="37.12" height="9.92" fill="#d7d7ff"/>
<rect x="429.54" y="578.78" width="37.12" height="9.92" fill="#fffafb"/>
<rect x="465.66" y="578.78" width="36.12" height="9.92" fill="#fffafb"/>
<rect x="176.70" y="587.70" width="37.12" height="9.92" fill="#fffafb"/>
<rect x="212.82" y="587.70" width="37.12" height="9.92" fill="#fffafb"/>
<rect x="248.94" y="587.70" width="37.12" height="9.92" fill="#fffafb"/>
<rect x="285.06" y="587.70" width="37.12" height="9.92" fill="#fffafb"/>
<rect x="321.18" y="587.70" width="37.12" height="9.92" fill="#fffafb"/>
<rect x="357.30" y="587.70" width="37.12" height="9.92" fill="#fffafb"/>
<rect x="393.42" y="587.70" width="37.12" height="9.92" fill="#f2f2ff"/>
<rect x="429.54" y="587.70" width="37.12" height="9.92" fill="#fffafb"/>
<rect x="465.66" y="587.70" width="36.12" height="9.92" fill="#1b1bff"/>
<rect x="176.70" y="596.62" width="37.12" height="9.92" fill="#fffafb"/>
<rect x="212.82" y="596.62" width="37.12" height="9.92" fill="#fffafb"/>
<rect x="248.94" y="596.62" width="37.12" height="9.92" fill="#5151ff"/>
<rect x="285.06" y="596.62" width="37.12" height="9.92" fill="#fffafb"/>
<rect x="321.18" y="596.62" width="37.12" height="9.92" fill="#fffafb"/>
<rect x="357.30" y="596.62" width="37.12" height="9.92" fill="#fffafb"/>
<rect x="393.42" y="596.62" width="37.12" height="9.92" fill="#fffafb"/>
<rect x="429.54" y="596.62" width="37.12" height="9.92" fill="#fffafb"/>
<rect x="465.66" y="596.62" width="36.12" height="9.92" fill="#fffafb"/>
<rect x="176.70" y="605.54" width="37.12" height="9.92" fill="#fffafb"/>
<rect x="212.82" y="605.54" width="37.12" height="9.92" fill="#fffafb"/>
<rect x="248.94" y="605.54" width="37.12" height="9.92" fill="#f2f2ff"/>
<rect x="285.06" y="605.54" width="37.12" height="9.92" fill="#5151ff"/>
<rect x="321.18" y="605.54" width="37.12" height="9.92" fill="#d7d7ff"/>
<rect x="357.30" y="605.54" width="37.12" height="9.92" fill="#fffafb"/>
<rect x="393.42" y="605.54" width="37.12" height="9.92" fill="#f2f2ff"/>
<rect x="429.54" y="605.54" width="37.12" height="9.92" fill="#fffafb"/>
<rect x="465.66" y="605.54" width="36.12" height="9.92" fill="#fffafb"/>
<rect x="176.70" y="614.46" width="37.12" height="9.92" fill="#fffafb"/>
<rect x="212.82" y="614.46" width="37.12" height="9.92" fill="#fffafb"/>
<rect x="248.94" y="614.46" width="37.12" height="9.92" fill="#f2f2ff"/>
<rect x="285.06" y="614.46" width="37.12" height="9.92" fill="#d7d7ff"/>
<rect x="321.18" y="614.46" width="37.12" height="9.92" fill="#a1a1ff"/>
<rect x="357.30" y="614.46" width="37.12" height="9.92" fill="#f2f2ff"/>
<rect x="393.42" y="614.46" width="37.12" height="9.92" fill="#fffafb"/>
<rect x="429.54" y="614.46" width="37.12" height="9.92" fill="#fffafb"/>
<rect x="465.66" y="614.46" width="36.12" height="9.92" fill="#fffafb"/>
<rect x="176.70" y="623.38" width="37.12" height="9.92" fill="#fffafb"/>
<rect x="212.82" y="623.38" width="37.12" height="9.92" fill="#fffafb"/>
<rect x="248.94" y="623.38" width="37.12" height="9.92" fill="#fffafb"/>
<rect x="285.06" y="623.38" width="37.12" height="9.92" fill="#fffafb"/>
<rect x="321.18" y="623.38" width="37.12" height="9.92" fill="#fffafb"/>
<rect x="357.30" y="623.38" width="37.12" height="9.92" fill="#fffafb"/>
<rect x="393.42" y="623.38" width="37.12" height="9.92" fill="#fffafb"/>
<rect x="429.54" y="623.38" width="37.12" height="9.92" fill="#f2f2ff"/>
<rect x="465.66" y="623.38" width="36.12" height="9.92" fill="#fffafb"/>
<rect x="176.70" y="632.30" width="37.12" height="9.92" fill="#fffafb"/>
<rect x="212.82" y="632.30" width="37.12" height="9.92" fill="#fffafb"/>
<rect x="248.94" y="632.30" width="37.12" height="9.92" fill="#f2f2ff"/>
<rect x="285.06" y="632.30" width="37.12" height="9.92" fill="#fffafb"/>
<rect x="321.18" y="632.30" width="37.12" height="9.92" fill="#fffafb"/>
<rect x="357.30" y="632.30" width="37.12" height="9.92" fill="#fffafb"/>
<rect x="393.42" y="632.30" width="37.12" height="9.92" fill="#f2f2ff"/>
<rect x="429.54" y="632.30" width="37.12" height="9.92" fill="#f2f2ff"/>
<rect x="465.66" y="632.30" width="36.12" height="9.92" fill="#fffafb"/>
<rect x="176.70" y="641.22" width="37.12" height="9.92" fill="#fffafb"/>
<rect x="212.82" y="641.22" width="37.12" height="9.92" fill="#fffafb"/>
<rect x="248.94" y="641.22" width="37.12" height="9.92" fill="#f2f2ff"/>
<rect x="285.06" y="641.22" width="37.12" height="9.92" fill="#fffafb"/>
<rect x="321.18" y="641.22" width="37.12" height="9.92" fill="#f2f2ff"/>
<rect x="357.30" y="641.22" width="37.12" height="9.92" fill="#fffafb"/>
<rect x="393.42" y="641.22" width="37.12" height="9.92" fill="#d7d7ff"/>
<rect x="429.54" y="641.22" width="37.12" height="9.92" fill="#fffafb"/>
<rect x="465.66" y="641.22" width="36.12" height="9.92" fill="#fffafb"/>
<rect x="176.70" y="650.14" width="37.12" height="9.92" fill="#8686ff"/>
<rect x="212.82" y="650.14" width="37.12" height="9.92" fill="#fffafb"/>
<rect x="248.94" y="650.14" width="37.12" height="9.92" fill="#fffafb"/>
<rect x="285.06" y="650.14" width="37.12" height="9.92" fill="#fffafb"/>
<rect x="321.18" y="650.14" width="37.12" height="9.92" fill="#fffafb"/>
<rect x="357.30" y="650.14" width="37.12" height="9.92" fill="#fffafb"/>
<rect x="393.42" y="650.14" width="37.12" height="9.92" fill="#fffafb"/>
<rect x="429.54" y="650.14" width="37.12" height="9.92" fill="#fffafb"/>
<rect x="465.66" y="650.14" width="36.12" height="9.92" fill="#fffafb"/>
<rect x="176.70" y="659.06" width="37.12" height="9.92" fill="#fffafb"/>
<rect x="212.82" y="659.06" width="37.12" height="9.92" fill="#fffafb"/>
<rect x="248.94" y="659.06" width="37.12" height="9.92" fill="#fffafb"/>
<rect x="285.06" y="659.06" width="37.12" height="9.92" fill="#fffafb"/>
<rect x="321.18" y="659.06" width="37.12" height="9.92" fill="#fffafb"/>
<rect x="357.30" y="659.06" width="37.12" height="9.92" fill="#fffafb"/>
<rect x="393.42" y="659.06" width="37.12" height="9.92" fill="#f2f2ff"/>
<rect x="429.54" y="659.06" width="37.12" height="9.92" fill="#f2f2ff"/>
<rect x="465.66" y="659.06" width="36.12" height="9.92" fill="#fffafb"/>
<rect x="176.70" y="667.98" width="37.12" height="9.92" fill="#fffafb"/>
<rect x="212.82" y="667.98" width="37.12" height="9.92" fill="#fffafb"/>
<rect x="248.94" y="667.98" width="37.12" height="9.92" fill="#fffafb"/>
<rect x="285.06" y="667.98" width="37.12" height="9.92" fill="#fffafb"/>
<rect x="321.18" y="667.98" width="37.12" height="9.92" fill="#fffafb"/>
<rect x="357.30" y="667.98" width="37.12" height="9.92" fill="#fffafb"/>
<rect x="393.42" y="667.98" width="37.12" height="9.92" fill="#fffafb"/>
<rect x="429.54" y="667.98" width="37.12" height="9.92" fill="#f2f2ff"/>
<rect x="465.66" y="667.98" width="36.12" height="9.92" fill="#fffafb"/>
<rect x="176.70" y="676.90" width="37.12" height="9.92" fill="#fffafb"/>
<rect x="212.82" y="676.90" width="37.12" height="9.92" fill="#fffafb"/>
<rect x="248.94" y="676.90" width="37.12" height="9.92" fill="#8686ff"/>
<rect x="285.06" y="676.90" width="37.12" height="9.92" fill="#fffafb"/>
<rect x="321.18" y="676.90" width="37.12" height="9.92" fill="#f2f2ff"/>
<rect x="357.30" y="676.90" width="37.12" height="9.92" fill="#fffafb"/>
<rect x="393.42" y="676.90" width="37.12" height="9.92" fill="#fffafb"/>
<rect x="429.54" y="676.90" width="37.12" height="9.92" fill="#fffafb"/>
<rect x="465.66" y="676.90" width="36.12" height="9.92" fill="#fffafb"/>
<rect x="176.70" y="685.82" width="37.12" height="9.92" fill="#a1a1ff"/>
<rect x="212.82" y="685.82" width="37.12" height="9.92" fill="#fffafb"/>
<rect x="248.94" y="685.82" width="37.12" height="9.92" fill="#fffafb"/>
<rect x="285.06" y="685.82" width="37.12" height="9.92" fill="#fffafb"/>
<rect x="321.18" y="685.82" width="37.12" height="9.92" fill="#fffafb"/>
<rect x="357.30" y="685.82" width="37.12" height="9.92" fill="#fffafb"/>
<rect x="393.42" y="685.82" width="37.12" height="9.92" fill="#fffafb"/>
<rect x="429.54" y="685.82" width="37.12" height="9.92" fill="#fffafb"/>
<rect x="465.66" y="685.82" width="36.12" height="9.92" fill="#fffafb"/>
<rect x="176.70" y="694.74" width="37.12" height="9.92" fill="#fffafb"/>
<rect x="212.82" y="694.74" width="37.12" height="9.92" fill="#fffafb"/>
<rect x="248.94" y="694.74" width="37.12" height="9.92" fill="#fffafb"/>
<rect x="285.06" y="694.74" width="37.12" height="9.92" fill="#f2f2ff"/>
<rect x="321.18" y="694.74" width="37.12" height="9.92" fill="#8686ff"/>
<rect x="357.30" y="694.74" width="37.12" height="9.92" fill="#fffafb"/>
<rect x="393.42" y="694.74" width="37.12" height="9.92" fill="#fffafb"/>
<rect x="429.54" y="694.74" width="37.12" height="9.92" fill="#fffafb"/>
<rect x="465.66" y="694.74" width="36.12" height="9.92" fill="#fffafb"/>
<rect x="176.70" y="703.66" width="37.12" height="9.92" fill="#fffafb"/>
<rect x="212.82" y="703.66" width="37.12" height="9.92" fill="#fffafb"/>
<rect x="248.94" y="703.66" width="37.12" height="9.92" fill="#fffafb"/>
<rect x="285.06" y="703.66" width="37.12" height="9.92" fill="#d7d7ff"/>
<rect x="321.18" y="703.66" width="37.12" height="9.92" fill="#d7d7ff"/>
<rect x="357.30" y="703.66" width="37.12" height="9.92" fill="#fffafb"/>
<rect x="393.42" y="703.66" width="37.12" height="9.92" fill="#fffafb"/>
<rect x="429.54" y="703.66" width="37.12" height="9.92" fill="#fffafb"/>
<rect x="465.66" y="703.66" width="36.12" height="9.92" fill="#fffafb"/>
<rect x="176.70" y="712.58" width="37.12" height="9.92" fill="#fffafb"/>
<rect x="212.82" y="712.58" width="37.12" height="9.92" fill="#fffafb"/>
<rect x="248.94" y="712.58" width="37.12" height="9.92" fill="#fffafb"/>
<rect x="285.06" y="712.58" width="37.12" height="9.92" fill="#fffafb"/>
<rect x="321.18" y="712.58" width="37.12" height="9.92" fill="#6b6bff"/>
<rect x="357.30" y="712.58" width="37.12" height="9.92" fill="#fffafb"/>
<rect x="393.42" y="712.58" width="37.12" height="9.92" fill="#fffafb"/>
<rect x="429.54" y="712.58" width="37.12" height="9.92" fill="#fffafb"/>
<rect x="465.66" y="712.58" width="36.12" height="9.92" fill="#fffafb"/>
<rect x="176.70" y="721.50" width="37.12" height="9.92" fill="#bcbcff"/>
<rect x="212.82" y="721.50" width="37.12" height="9.92" fill="#fffafb"/>
<rect x="248.94" y="721.50" width="37.12" height="9.92" fill="#fffafb"/>
<rect x="285.06" y="721.50" width="37.12" height="9.92" fill="#fffafb"/>
<rect x="321.18" y="721.50" width="37.12" height="9.92" fill="#fffafb"/>
<rect x="357.30" y="721.50" width="37.12" height="9.92" fill="#fffafb"/>
<rect x="393.42" y="721.50" width="37.12" height="9.92" fill="#fffafb"/>
<rect x="429.54" y="721.50" width="37.12" height="9.92" fill="#fffafb"/>
<rect x="465.66" y="721.50" width="36.12" height="9.92" fill="#fffafb"/>
<rect x="176.70" y="730.42" width="37.12" height="9.92" fill="#fffafb"/>
<rect x="212.82" y="730.42" width="37.12" height="9.92" fill="#fffafb"/>
<rect x="248.94" y="730.42" width="37.12" height="9.92" fill="#fffafb"/>
<rect x="285.06" y="730.42" width="37.12" height="9.92" fill="#fffafb"/>
<rect x="321.18" y="730.42" width="37.12" height="9.92" fill="#fffafb"/>
<rect x="357.30" y="730.42" width="37.12" height="9.92" fill="#fffafb"/>
<rect x="393.42" y="730.42" width="37.12" height="9.92" fill="#fffafb"/>
<rect x="429.54" y="730.42" width="37.12" height="9.92" fill="#f2f2ff"/>
<rect x="465.66" y="730.42" width="36.12" height="9.92" fill="#fffafb"/>
<rect x="176.70" y="739.34" width="37.12" height="9.92" fill="#bcbcff"/>
<rect x="212.82" y="739.34" width="37.12" height="9.92" fill="#fffafb"/>
<rect x="248.94" y="739.34" width="37.12" height="9.92" fill="#fffafb"/>
<rect x="285.06" y="739.34" width="37.12" height="9.92" fill="#fffafb"/>
<rect x="321.18" y="739.34" width="37.12" height="9.92" fill="#fffafb"/>
<rect x="357.30" y="739.34" width="37.12" height="9.92" fill="#fffafb"/>
<rect x="393.42" y="739.34" width="37.12" height="9.92" fill="#fffafb"/>
<rect x="429.54" y="739.34" width="37.12" height="9.92" fill="#fffafb"/>
<rect x="465.66" y="739.34" width="36.12" height="9.92" fill="#fffafb"/>
<rect x="176.70" y="748.26" width="37.12" height="9.92" fill="#fffafb"/>
<rect x="212.82" y="748.26" width="37.12" height="9.92" fill="#fffafb"/>
<rect x="248.94" y="748.26" width="37.12" height="9.92" fill="#fffafb"/>
<rect x="285.06" y="748.26" width="37.12" height="9.92" fill="#fffafb"/>
<rect x="321.18" y="748.26" width="37.12" height="9.92" fill="#fffafb"/>
<rect x="357.30" y="748.26" width="37.12" height="9.92" fill="#fffafb"/>
<rect x="393.42" y="748.26" width="37.12" height="9.92" fill="#fffafb"/>
<rect x="429.54" y="748.26" width="37.12" height="9.92" fill="#f2f2ff"/>
<rect x="465.66" y="748.26" width="36.12" height="9.92" fill="#fffafb"/>
<rect x="176.70" y="757.18" width="37.12" height="9.92" fill="#fffafb"/>
<rect x="212.82" y="757.18" width="37.12" height="9.92" fill="#fffafb"/>
<rect x="248.94" y="757.18" width="37.12" height="9.92" fill="#fffafb"/>
<rect x="285.06" y="757.18" width="37.12" height="9.92" fill="#fffafb"/>
<rect x="321.18" y="757.18" width="37.12" height="9.92" fill="#fffafb"/>
<rect x="357.30" y="757.18" width="37.12" height="9.92" fill="#fffafb"/>
<rect x="393.42" y="757.18" width="37.12" height="9.92" fill="#fffafb"/>
<rect x="429.54" y="757.18" width="37.12" height="9.92" fill="#f2f2ff"/>
<rect x="465.66" y="757.18" width="36.12" height="9.92" fill="#fffafb"/>
<rect x="176.70" y="766.10" width="37.12" height="9.92" fill="#fffafb"/>
<rect x="212.82" y="766.10" width="37.12" height="9.92" fill="#fffafb"/>
<rect x="248.94" y="766.10" width="37.12" height="9.92" fill="#fffafb"/>
<rect x="285.06" y="766.10" width="37.12" height="9.92" fill="#a1a1ff"/>
<rect x="321.18" y="766.10" width="37.12" height="9.92" fill="#f2f2ff"/>
<rect x="357.30" y="766.10" width="37.12" height="9.92" fill="#fffafb"/>
<rect x="393.42" y="766.10" width="37.12" height="9.92" fill="#fffafb"/>
<rect x="429.54" y="766.10" width="37.12" height="9.92" fill="#fffafb"/>
<rect x="465.66" y="766.10" width="36.12" height="9.92" fill="#fffafb"/>
<rect x="176.70" y="775.02" width="37.12" height="9.92" fill="#fffafb"/>
<rect x="212.82" y="775.02" width="37.12" height="9.92" fill="#f2f2ff"/>
<rect x="248.94" y="775.02" width="37.12" height="9.92" fill="#fffafb"/>
<rect x="285.06" y="775.02" width="37.12" height="9.92" fill="#6b6bff"/>
<rect x="321.18" y="775.02" width="37.12" height="9.92" fill="#fffafb"/>
<rect x="357.30" y="775.02" width="37.12" height="9.92" fill="#fffafb"/>
<rect x="393.42" y="775.02" width="37.12" height="9.92" fill="#fffafb"/>
<rect x="429.54" y="775.02" width="37.12" height="9.92" fill="#fffafb"/>
<rect x="465.66" y="775.02" width="36.12" height="9.92" fill="#fffafb"/>
<rect x="176.70" y="783.94" width="37.12" height="9.92" fill="#fffafb"/>
<rect x="212.82" y="783.94" width="37.12" height="9.92" fill="#fffafb"/>
<rect x="248.94" y="783.94" width="37.12" height="9.92" fill="#fffafb"/>
<rect x="285.06" y="783.94" width="37.12" height="9.92" fill="#fffafb"/>
<rect x="321.18" y="783.94" width="37.12" height="9.92" fill="#fffafb"/>
<rect x="357.30" y="783.94" width="37.12" height="9.92" fill="#f2f2ff"/>
<rect x="393.42" y="783.94" width="37.12" height="9.92" fill="#d7d7ff"/>
<rect x="429.54" y="783.94" width="37.12" height="9.92" fill="#fffafb"/>
<rect x="465.66" y="783.94" width="36.12" height="9.92" fill="#bcbcff"/>
<rect x="176.70" y="792.86" width="37.12" height="9.92" fill="#fffafb"/>
<rect x="212.82" y="792.86" width="37.12" height="9.92" fill="#fffafb"/>
<rect x="248.94" y="792.86" width="37.12" height="9.92" fill="#fffafb"/>
<rect x="285.06" y="792.86" width="37.12" height="9.92" fill="#fffafb"/>
<rect x="321.18" y="792.86" width="37.12" height="9.92" fill="#fffafb"/>
<rect x="357.30" y="792.86" width="37.12" height="9.92" fill="#fffafb"/>
<rect x="393.42" y="792.86" width="37.12" height="9.92" fill="#fffafb"/>
<rect x="429.54" y="792.86" width="37.12" height="9.92" fill="#f2f2ff"/>
<rect x="465.66" y="792.86" width="36.12" height="9.92" fill="#fffafb"/>
<rect x="176.70" y="801.78" width="37.12" height="9.92" fill="#fffafb"/>
<rect x="212.82" y="801.78" width="37.12" height="9.92" fill="#fffafb"/>
<rect x="248.94" y="801.78" width="37.12" height="9.92" fill="#f2f2ff"/>
<rect x="285.06" y="801.78" width="37.12" height="9.92" fill="#fffafb"/>
<rect x="321.18" y="801.78" width="37.12" height="9.92" fill="#fffafb"/>
<rect x="357.30" y="801.78" width="37.12" height="9.92" fill="#fffafb"/>
<rect x="393.42" y="801.78" width="37.12" height="9.92" fill="#bcbcff"/>
<rect x="429.54" y="801.78" width="37.12" height="9.92" fill="#fffafb"/>
<rect x="465.66" y="801.78" width="36.12" height="9.92" fill="#fffafb"/>
<rect x="176.70" y="810.70" width="37.12" height="9.92" fill="#f2f2ff"/>
<rect x="212.82" y="810.70" width="37.12" height="9.92" fill="#f2f2ff"/>
<rect x="248.94" y="810.70" width="37.12" height="9.92" fill="#fffafb"/>
<rect x="285.06" y="810.70" width="37.12" height="9.92" fill="#f2f2ff"/>
<rect x="321.18" y="810.70" width="37.12" height="9.92" fill="#fffafb"/>
<rect x="357.30" y="810.70" width="37.12" height="9.92" fill="#fffafb"/>
<rect x="393.42" y="810.70" width="37.12" height="9.92" fill="#fffafb"/>
<rect x="429.54" y="810.70" width="37.12" height="9.92" fill="#fffafb"/>
<rect x="465.66" y="810.70" width="36.12" height="9.92" fill="#fffafb"/>
<rect x="176.70" y="819.62" width="37.12" height="9.92" fill="#fffafb"/>
<rect x="212.82" y="819.62" width="37.12" height="9.92" fill="#fffafb"/>
<rect x="248.94" y="819.62" width="37.12" height="9.92" fill="#fffafb"/>
<rect x="285.06" y="819.62" width="37.12" height="9.92" fill="#fffafb"/>
<rect x="321.18" y="819.62" width="37.12" height="9.92" fill="#fffafb"/>
<rect x="357.30" y="819.62" width="37.12" height="9.92" fill="#fffafb"/>
<rect x="393.42" y="819.62" width="37.12" height="9.92" fill="#fffafb"/>
<rect x="429.54" y="819.62" width="37.12" height="9.92" fill="#fffafb"/>
<rect x="465.66" y="819.62" width="36.12" height="9.92" fill="#bcbcff"/>
<rect x="176.70" y="828.54" width="37.12" height="9.92" fill="#fffafb"/>
<rect x="212.82" y="828.54" width="37.12" height="9.92" fill="#fffafb"/>
<rect x="248.94" y="828.54" width="37.12" height="9.92" fill="#fffafb"/>
<rect x="285.06" y="828.54" width="37.12" height="9.92" fill="#fffafb"/>
<rect x="321.18" y="828.54" width="37.12" height="9.92" fill="#fffafb"/>
<rect x="357.30" y="828.54" width="37.12" height="9.92" fill="#fffafb"/>
<rect x="393.42" y="828.54" width="37.12" height="9.92" fill="#fffafb"/>
<rect x="429.54" y="828.54" width="37.12" height="9.92" fill="#fffafb"/>
<rect x="465.66" y="828.54" width="36.12" height="9.92" fill="#bcbcff"/>
<rect x="176.70" y="837.46" width="37.12" height="9.92" fill="#d7d7ff"/>
<rect x="212.82" y="837.46" width="37.12" height="9.92" fill="#fffafb"/>
<rect x="248.94" y="837.46" width="37.12" height="9.92" fill="#fffafb"/>
<rect x="285.06" y="837.46" width="37.12" height="9.92" fill="#fffafb"/>
<rect x="321.18" y="837.46" width="37.12" height="9.92" fill="#fffafb"/>
<rect x="357.30" y="837.46" width="37.12" height="9.92" fill="#fffafb"/>
<rect x="393.42" y="837.46" width="37.12" height="9.92" fill="#fffafb"/>
<rect x="429.54" y="837.46" width="37.12" height="9.92" fill="#fffafb"/>
<rect x="465.66" y="837.46" width="36.12" height="9.92" fill="#fffafb"/>
<rect x="176.70" y="846.38" width="37.12" height="9.92" fill="#fffafb"/>
<rect x="212.82" y="846.38" width="37.12" height="9.92" fill="#fffafb"/>
<rect x="248.94" y="846.38" width="37.12" height="9.92" fill="#fffafb"/>
<rect x="285.06" y="846.38" width="37.12" height="9.92" fill="#fffafb"/>
<rect x="321.18" y="846.38" width="37.12" height="9.92" fill="#fffafb"/>
<rect x="357.30" y="846.38" width="37.12" height="9.92" fill="#fffafb"/>
<rect x="393.42" y="846.38" width="37.12" height="9.92" fill="#fffafb"/>
<rect x="429.54" y="846.38" width="37.12" height="9.92" fill="#fffafb"/>
<rect x="465.66" y="846.38" width="36.12" height="9.92" fill="#fffafb"/>
<rect x="176.70" y="855.30" width="37.12" height="9.92" fill="#fffafb"/>
<rect x="212.82" y="855.30" width="37.12" height="9.92" fill="#fffafb"/>
<rect x="248.94" y="855.30" width="37.12" height="9.92" fill="#fffafb"/>
<rect x="285.06" y="855.30" width="37.12" height="9.92" fill="#fffafb"/>
<rect x="321.18" y="855.30" width="37.12" height="9.92" fill="#fffafb"/>
<rect x="357.30" y="855.30" width="37.12" height="9.92" fill="#fffafb"/>
<rect x="393.42" y="855.30" width="37.12" height="9.92" fill="#fffafb"/>
<rect x="429.54" y="855.30" width="37.12" height="9.92" fill="#fffafb"/>
<rect x="465.66" y="855.30" width="36.12" height="9.92" fill="#fffafb"/>
<rect x="176.70" y="864.22" width="37.12" height="9.92" fill="#fffafb"/>
<rect x="212.82" y="864.22" width="37.12" height="9.92" fill="#fffafb"/>
<rect x="248.94" y="864.22" width="37.12" height="9.92" fill="#a1a1ff"/>
<rect x="285.06" y="864.22" width="37.12" height="9.92" fill="#fffafb"/>
<rect x="321.18" y="864.22" width="37.12" height="9.92" fill="#fffafb"/>
<rect x="357.30" y="864.22" width="37.12" height="9.92" fill="#fffafb"/>
<rect x="393.42" y="864.22" width="37.12" height="9.92" fill="#fffafb"/>
<rect x="429.54" y="864.22" width="37.12" height="9.92" fill="#fffafb"/>
<rect x="465.66" y="864.22" width="36.12" height="9.92" fill="#fffafb"/>
<rect x="176.70" y="873.14" width="37.12" height="9.92" fill="#fffafb"/>
<rect x="212.82" y="873.14" width="37.12" height="9.92" fill="#fffafb"/>
<rect x="248.94" y="873.14" width="37.12" height="9.92" fill="#fffafb"/>
<rect x="285.06" y="873.14" width="37.12" height="9.92" fill="#f2f2ff"/>
<rect x="321.18" y="873.14" width="37.12" height="9.92" fill="#fffafb"/>
<rect x="357.30" y="873.14" width="37.12" height="9.92" fill="#fffafb"/>
<rect x="393.42" y="873.14" width="37.12" height="9.92" fill="#fffafb"/>
<rect x="429.54" y="873.14" width="37.12" height="9.92" fill="#fffafb"/>
<rect x="465.66" y="873.14" width="36.12" height="9.92" fill="#fffafb"/>
<rect x="176.70" y="882.06" width="37.12" height="9.92" fill="#fffafb"/>
<rect x="212.82" y="882.06" width="37.12" height="9.92" fill="#fffafb"/>
<rect x="248.94" y="882.06" width="37.12" height="9.92" fill="#fffafb"/>
<rect x="285.06" y="882.06" width="37.12" height="9.92" fill="#fffafb"/>
<rect x="321.18" y="882.06" width="37.12" height="9.92" fill="#fffafb"/>
<rect x="357.30" y="882.06" width="37.12" height="9.92" fill="#fffafb"/>
<rect x="393.42" y="882.06" width="37.12" height="9.92" fill="#fffafb"/>
<rect x="429.54" y="882.06" width="37.12" height="9.92" fill="#fffafb"/>
<rect x="465.66" y="882.06" width="36.12" height="9.92" fill="#fffafb"/>
<rect x="176.70" y="890.98" width="37.12" height="9.92" fill="#fffafb"/>
<rect x="212.82" y="890.98" width="37.12" height="9.92" fill="#fffafb"/>
<rect x="248.94" y="890.98" width="37.12" height="9.92" fill="#d7d7ff"/>
<rect x="285.06" y="890.98" width="37.12" height="9.92" fill="#fffafb"/>
<rect x="321.18" y="890.98" width="37.12" height="9.92" fill="#fffafb"/>
<rect x="357.30" y="890.98" width="37.12" height="9.92" fill="#fffafb"/>
<rect x="393.42" y="890.98" width="37.12" height="9.92" fill="#d7d7ff"/>
<rect x="429.54" y="890.98" width="37.12" height="9.92" fill="#fffafb"/>
<rect x="465.66" y="890.98" width="36.12" height="9.92" fill="#fffafb"/>
<rect x="176.70" y="899.90" width="37.12" height="9.92" fill="#fffafb"/>
<rect x="212.82" y="899.90" width="37.12" height="9.92" fill="#fffafb"/>
<rect x="248.94" y="899.90" width="37.12" height="9.92" fill="#fffafb"/>
<rect x="285.06" y="899.90" width="37.12" height="9.92" fill="#fffafb"/>
<rect x="321.18" y="899.90" width="37.12" height="9.92" fill="#fffafb"/>
<rect x="357.30" y="899.90" width="37.12" height="9.92" fill="#fffafb"/>
<rect x="393.42" y="899.90" width="37.12" height="9.92" fill="#fffafb"/>
<rect x="429.54" y="899.90" width="37.12" height="9.92" fill="#fffafb"/>
<rect x="465.66" y="899.90" width="36.12" height="9.92" fill="#fffafb"/>
<rect x="176.70" y="908.82" width="37.12" height="9.92" fill="#d7d7ff"/>
<rect x="212.82" y="908.82" width="37.12" height="9.92" fill="#fffafb"/>
<rect x="248.94" y="908.82" width="37.12" height="9.92" fill="#fffafb"/>
<rect x="285.06" y="908.82" width="37.12" height="9.92" fill="#fffafb"/>
<rect x="321.18" y="908.82" width="37.12" height="9.92" fill="#fffafb"/>
<rect x="357.30" y="908.82" width="37.12" height="9.92" fill="#fffafb"/>
<rect x="393.42" y="908.82" width="37.12" height="9.92" fill="#fffafb"/>
<rect x="429.54" y="908.82" width="37.12" height="9.92" fill="#fffafb"/>
<rect x="465.66" y="908.82" width="36.12" height="9.92" fill="#fffafb"/>
<rect x="176.70" y="917.74" width="37.12" height="9.92" fill="#fffafb"/>
<rect x="212.82" y="917.74" width="37.12" height="9.92" fill="#fffafb"/>
<rect x="248.94" y="917.74" width="37.12" height="9.92" fill="#fffafb"/>
<rect x="285.06" y="917.74" width="37.12" height="9.92" fill="#f2f2ff"/>
<rect x="321.18" y="917.74" width="37.12" height="9.92" fill="#bcbcff"/>
<rect x="357.30" y="917.74" width="37.12" height="9.92" fill="#fffafb"/>
<rect x="393.42" y="917.74" width="37.12" height="9.92" fill="#fffafb"/>
<rect x="429.54" y="917.74" width="37.12" height="9.92" fill="#fffafb"/>
<rect x="465.66" y="917.74" width="36.12" height="9.92" fill="#fffafb"/>
<rect x="176.70" y="926.66" width="37.12" height="9.92" fill="#fffafb"/>
<rect x="212.82" y="926.66" width="37.12" height="9.92" fill="#fffafb"/>
<rect x="248.94" y="926.66" width="37.12" height="9.92" fill="#fffafb"/>
<rect x="285.06" y="926.66" width="37.12" height="9.92" fill="#fffafb"/>
<rect x="321.18" y="926.66" width="37.12" height="9.92" fill="#fffafb"/>
<rect x="357.30" y="926.66" width="37.12" height="9.92" fill="#fffafb"/>
<rect x="393.42" y="926.66" width="37.12" height="9.92" fill="#fffafb"/>
<rect x="429.54" y="926.66" width="37.12" height="9.92" fill="#fffafb"/>
<rect x="465.66" y="926.66" width="36.12" height="9.92" fill="#d7d7ff"/>
<rect x="176.70" y="935.58" width="37.12" height="9.92" fill="#fffafb"/>
<rect x="212.82" y="935.58" width="37.12" height="9.92" fill="#fffafb"/>
<rect x="248.94" y="935.58" width="37.12" height="9.92" fill="#fffafb"/>
<rect x="285.06" y="935.58" width="37.12" height="9.92" fill="#fffafb"/>
<rect x="321.18" y="935.58" width="37.12" height="9.92" fill="#fffafb"/>
<rect x="357.30" y="935.58" width="37.12" height="9.92" fill="#fffafb"/>
<rect x="393.42" y="935.58" width="37.12" height="9.92" fill="#f2f2ff"/>
<rect x="429.54" y="935.58" width="37.12" height="9.92" fill="#fffafb"/>
<rect x="465.66" y="935.58" width="36.12" height="9.92" fill="#f2f2ff"/>
</g>
<g id="heat-b-rowlabels" class="rl">
<text transform="translate(514.1 506.56) rotate(0.04)">Pseudotaeniolina globosa</text>
<text transform="translate(514.1 515.48) rotate(0.04)">Cladophialophora proteae</text>
<text transform="translate(514.1 524.40) rotate(0.04)">Ustilago bullata</text>
<text transform="translate(514.1 533.32) rotate(0.04)">Alternaria sp BMP_2012</text>
<text transform="translate(514.1 542.24) rotate(0.04)">Botryotinia fuckeliana</text>
<text transform="translate(514.1 551.16) rotate(0.04)">Cladophialophora minutissima</text>
<text transform="translate(514.1 560.08) rotate(0.04)">Naevala minutissima</text>
<text transform="translate(514.1 569.00) rotate(0.04)">Erysiphe alphitoides</text>
<text transform="translate(514.1 577.92) rotate(0.04)">Preussia minima</text>
<text transform="translate(514.1 586.84) rotate(0.04)">Lophodermium agathidis</text>
<text transform="translate(514.1 595.76) rotate(0.04)">Coriolopsis trogii</text>
<text transform="translate(514.1 604.68) rotate(0.04)">Sporidiobolus sp JPS_2007a</text>
<text transform="translate(514.1 613.60) rotate(0.04)">Toxicocladosporium rubrigenum</text>
<text transform="translate(514.1 622.52) rotate(0.04)">Ustilago hordei</text>
<text transform="translate(514.1 631.44) rotate(0.04)">Sarcinomyces petricola</text>
<text transform="translate(514.1 640.36) rotate(0.04)">Leptosphaerulina chartarum</text>
<text transform="translate(514.1 649.28) rotate(0.04)">Cryptococcus victoriae</text>
<text transform="translate(514.1 658.20) rotate(0.04)">Microdochium phragmitis</text>
<text transform="translate(514.1 667.12) rotate(0.04)">Epicoccum sp JJP_2009a</text>
<text transform="translate(514.1 676.04) rotate(0.04)">Eurotium amstelodami</text>
<text transform="translate(514.1 684.96) rotate(0.04)">Cladosporium langeronii</text>
<text transform="translate(514.1 693.88) rotate(0.04)">Chalara hyalocuspica</text>
<text transform="translate(514.1 702.80) rotate(0.04)">Aureobasidium pullulans var subglaciale</text>
<text transform="translate(514.1 711.72) rotate(0.04)">Preussia intermedia</text>
<text transform="translate(514.1 720.64) rotate(0.04)">Tranzscheliella hypodytes</text>
<text transform="translate(514.1 729.56) rotate(0.04)">Sistotrema alboluteum</text>
<text transform="translate(514.1 738.48) rotate(0.04)">Baeospora myosura</text>
<text transform="translate(514.1 747.40) rotate(0.04)">Sistotremastrum guttuliferum</text>
<text transform="translate(514.1 756.32) rotate(0.04)">Tremella foliacea</text>
<text transform="translate(514.1 765.24) rotate(0.04)">Aspergillus reptans</text>
<text transform="translate(514.1 774.16) rotate(0.04)">Trichocladium asperum</text>
<text transform="translate(514.1 783.08) rotate(0.04)">Humicola nigrescens</text>
<text transform="translate(514.1 792.00) rotate(0.04)">Ganoderma applanatum</text>
<text transform="translate(514.1 800.92) rotate(0.04)">Handkea utriformis</text>
<text transform="translate(514.1 809.84) rotate(0.04)">Aureobasidium pullulans</text>
<text transform="translate(514.1 818.76) rotate(0.04)">Phaeosphaeria herpotrichoides</text>
<text transform="translate(514.1 827.68) rotate(0.04)">Physisporinus sanguinolentus</text>
<text transform="translate(514.1 836.60) rotate(0.04)">Ganoderma australe</text>
<text transform="translate(514.1 845.52) rotate(0.04)">Lachnum ciliare</text>
<text transform="translate(514.1 854.44) rotate(0.04)">Psilolechia leprosa</text>
<text transform="translate(514.1 863.36) rotate(0.04)">Blumeria graminis</text>
<text transform="translate(514.1 872.28) rotate(0.04)">Schizophyllum commune</text>
<text transform="translate(514.1 881.20) rotate(0.04)">Pseudozyma shanxiensis</text>
<text transform="translate(514.1 890.12) rotate(0.04)">Microdochium majus</text>
<text transform="translate(514.1 899.04) rotate(0.04)">Pleospora alfalfae</text>
<text transform="translate(514.1 907.96) rotate(0.04)">Podospora pleiospora</text>
<text transform="translate(514.1 916.88) rotate(0.04)">Ypsilina graminea</text>
<text transform="translate(514.1 925.80) rotate(0.04)">Ulocladium chartarum</text>
<text transform="translate(514.1 934.72) rotate(0.04)">Peniophora cinerea</text>
<text transform="translate(514.1 943.64) rotate(0.04)">Stereum annosum</text>
</g>
<g id="collabels" class="cl">
<text text-anchor="end" transform="translate(202.68 470.10) rotate(-45)">AMS</text>
<text text-anchor="end" transform="translate(238.83 470.10) rotate(-45)">STN</text>
<text text-anchor="end" transform="translate(274.98 470.10) rotate(-45)">CAP</text>
<text text-anchor="end" transform="translate(311.12 470.10) rotate(-45)">NAM</text>
<text text-anchor="end" transform="translate(347.28 470.10) rotate(-45)">CHC</text>
<text text-anchor="end" transform="translate(383.43 470.10) rotate(-45)">STP</text>
<text text-anchor="end" transform="translate(419.57 470.10) rotate(-45)">PDM</text>
<text text-anchor="end" transform="translate(455.73 470.10) rotate(-45)">PDD</text>
<text text-anchor="end" transform="translate(491.88 470.10) rotate(-45)">GRE</text>
</g>
<g id="key-a">
<rect x="30.60" y="21.10" width="7.63" height="45.20" fill="#ffc0cb"/>
<rect x="37.23" y="21.10" width="7.63" height="45.20" fill="#ffc7d0"/>
<rect x="43.86" y="21.10" width="7.63" height="45.20" fill="#ffcdd6"/>
<rect x="50.49" y="21.10" width="7.63" height="45.20" fill="#ffd4db"/>
<rect x="57.12" y="21.10" width="7.63" height="45.20" fill="#ffdbe1"/>
<rect x="63.75" y="21.10" width="7.63" height="45.20" fill="#ffe1e6"/>
<rect x="70.38" y="21.10" width="7.63" height="45.20" fill="#ffe8ec"/>
<rect x="77.01" y="21.10" width="7.63" height="45.20" fill="#ffeef1"/>
<rect x="83.64" y="21.10" width="7.63" height="45.20" fill="#fff4f5"/>
<rect x="90.27" y="21.10" width="7.63" height="45.20" fill="#fffafb"/>
<rect x="96.90" y="21.10" width="7.93" height="45.20" fill="#f2f2ff"/>
<rect x="103.83" y="21.10" width="7.93" height="45.20" fill="#d7d7ff"/>
<rect x="110.76" y="21.10" width="7.93" height="45.20" fill="#bcbcff"/>
<rect x="117.69" y="21.10" width="7.93" height="45.20" fill="#a1a1ff"/>
<rect x="124.62" y="21.10" width="7.93" height="45.20" fill="#8686ff"/>
<rect x="131.55" y="21.10" width="7.93" height="45.20" fill="#6b6bff"/>
<rect x="138.48" y="21.10" width="7.93" height="45.20" fill="#5151ff"/>
<rect x="145.41" y="21.10" width="7.93" height="45.20" fill="#3636ff"/>
<rect x="152.34" y="21.10" width="7.93" height="45.20" fill="#1b1bff"/>
<rect x="159.27" y="21.10" width="6.93" height="45.20" fill="#0000ff"/>
<line x1="30.10" y1="21.10" x2="30.10" y2="66.80" stroke="#2a2a2a" stroke-width="1"/>
<line x1="29.60" y1="66.30" x2="166.50" y2="66.30" stroke="#2a2a2a" stroke-width="1"/>
<line x1="166.20" y1="21.10" x2="166.20" y2="66.80" stroke="#333a55" stroke-width="0.5"/>
<line x1="24.40" y1="66.40" x2="30.10" y2="66.40" stroke="#2a2a2a" stroke-width="1"/>
<line x1="24.40" y1="57.44" x2="30.10" y2="57.44" stroke="#2a2a2a" stroke-width="1"/>
<line x1="24.40" y1="48.48" x2="30.10" y2="48.48" stroke="#2a2a2a" stroke-width="1"/>
<line x1="24.40" y1="39.52" x2="30.10" y2="39.52" stroke="#2a2a2a" stroke-width="1"/>
<line x1="24.40" y1="30.56" x2="30.10" y2="30.56" stroke="#2a2a2a" stroke-width="1"/>
<line x1="24.40" y1="21.60" x2="30.10" y2="21.60" stroke="#2a2a2a" stroke-width="1"/>
<line x1="51.30" y1="66.30" x2="51.30" y2="71.90" stroke="#2a2a2a" stroke-width="1"/>
<text class="tk" text-anchor="middle" transform="translate(50.70 86.80) rotate(0.04)">-4</text>
<line x1="74.55" y1="66.30" x2="74.55" y2="71.90" stroke="#2a2a2a" stroke-width="1"/>
<text class="tk" text-anchor="middle" transform="translate(73.95 86.80) rotate(0.04)">-2</text>
<line x1="97.80" y1="66.30" x2="97.80" y2="71.90" stroke="#2a2a2a" stroke-width="1"/>
<text class="tk" text-anchor="middle" transform="translate(97.20 86.80) rotate(0.04)">0</text>
<line x1="121.05" y1="66.30" x2="121.05" y2="71.90" stroke="#2a2a2a" stroke-width="1"/>
<text class="tk" text-anchor="middle" transform="translate(120.45 86.80) rotate(0.04)">2</text>
<line x1="144.30" y1="66.30" x2="144.30" y2="71.90" stroke="#2a2a2a" stroke-width="1"/>
<text class="tk" text-anchor="middle" transform="translate(143.70 86.80) rotate(0.04)">4</text>
<path d="M30.60 66.30 L30.60 66.30 L37.23 66.30 L37.23 66.30 L43.86 66.30 L43.86 66.30 L50.49 66.30 L50.49 66.30 L57.12 66.30 L57.12 66.30 L63.75 66.30 L63.75 66.30 L70.38 66.30 L70.38 66.30 L77.01 66.30 L77.01 66.30 L84.50 66.30 L84.50 50.35 L91.60 50.35 L91.60 23.29 L97.50 23.29 L97.50 55.55 L104.60 55.55 L104.60 61.28 L111.50 61.28 L111.50 64.15 L118.34 64.15 L118.34 64.15 L125.17 64.15 L125.17 65.22 L132.01 65.22 L132.01 64.87 L138.85 64.87 L138.85 65.76 L145.69 65.76 L145.69 65.94 L152.52 65.94 L152.52 66.12 L159.36 66.12 L159.36 66.12 L166.20 66.12" fill="none" stroke="#00ffff" stroke-width="1.1" stroke-linejoin="miter"/>
<text class="tk" text-anchor="middle" transform="translate(16.90 66.40) rotate(-90)">0</text>
<text class="tk" text-anchor="middle" transform="translate(16.90 39.50) rotate(-90)">150</text>
<text class="cnt" text-anchor="middle" transform="translate(8.60 42.50) rotate(-90) scale(0.82 1)">Count</text>
<text class="tk" text-anchor="middle" transform="translate(97.00 101.30) rotate(0.04)">Column Z-Score</text>
<text class="ttl" text-anchor="middle" transform="translate(97.20 8.85) rotate(0.04)">Color Key</text>
<text class="ttl" text-anchor="middle" transform="translate(97.20 21.25) rotate(0.04)">and Histogram</text>
</g>
<g id="key-b">
<rect x="30.20" y="516.60" width="7.71" height="45.80" fill="#ffc0cb"/>
<rect x="36.91" y="516.60" width="7.71" height="45.80" fill="#ffc7d0"/>
<rect x="43.62" y="516.60" width="7.71" height="45.80" fill="#ffcdd6"/>
<rect x="50.33" y="516.60" width="7.71" height="45.80" fill="#ffd4db"/>
<rect x="57.04" y="516.60" width="7.71" height="45.80" fill="#ffdbe1"/>
<rect x="63.75" y="516.60" width="7.71" height="45.80" fill="#ffe1e6"/>
<rect x="70.46" y="516.60" width="7.71" height="45.80" fill="#ffe8ec"/>
<rect x="77.17" y="516.60" width="7.71" height="45.80" fill="#ffeef1"/>
<rect x="83.88" y="516.60" width="7.71" height="45.80" fill="#fff4f5"/>
<rect x="90.59" y="516.60" width="7.71" height="45.80" fill="#fffafb"/>
<rect x="97.30" y="516.60" width="7.85" height="45.80" fill="#f2f2ff"/>
<rect x="104.15" y="516.60" width="7.85" height="45.80" fill="#d7d7ff"/>
<rect x="111.00" y="516.60" width="7.85" height="45.80" fill="#bcbcff"/>
<rect x="117.85" y="516.60" width="7.85" height="45.80" fill="#a1a1ff"/>
<rect x="124.70" y="516.60" width="7.85" height="45.80" fill="#8686ff"/>
<rect x="131.55" y="516.60" width="7.85" height="45.80" fill="#6b6bff"/>
<rect x="138.40" y="516.60" width="7.85" height="45.80" fill="#5151ff"/>
<rect x="145.25" y="516.60" width="7.85" height="45.80" fill="#3636ff"/>
<rect x="152.10" y="516.60" width="7.85" height="45.80" fill="#1b1bff"/>
<rect x="158.95" y="516.60" width="6.85" height="45.80" fill="#0000ff"/>
<line x1="29.70" y1="516.60" x2="29.70" y2="562.90" stroke="#2a2a2a" stroke-width="1"/>
<line x1="29.20" y1="562.40" x2="166.10" y2="562.40" stroke="#2a2a2a" stroke-width="1"/>
<line x1="165.80" y1="516.60" x2="165.80" y2="562.90" stroke="#333a55" stroke-width="0.5"/>
<line x1="24.00" y1="562.40" x2="29.70" y2="562.40" stroke="#2a2a2a" stroke-width="1"/>
<line x1="24.00" y1="550.60" x2="29.70" y2="550.60" stroke="#2a2a2a" stroke-width="1"/>
<line x1="24.00" y1="538.80" x2="29.70" y2="538.80" stroke="#2a2a2a" stroke-width="1"/>
<line x1="24.00" y1="527.00" x2="29.70" y2="527.00" stroke="#2a2a2a" stroke-width="1"/>
<line x1="38.50" y1="562.40" x2="38.50" y2="568.00" stroke="#2a2a2a" stroke-width="1"/>
<text class="tk" text-anchor="middle" transform="translate(37.90 583.00) rotate(0.04)">-6</text>
<line x1="58.10" y1="562.40" x2="58.10" y2="568.00" stroke="#2a2a2a" stroke-width="1"/>
<text class="tk" text-anchor="middle" transform="translate(57.50 583.00) rotate(0.04)">-4</text>
<line x1="77.70" y1="562.40" x2="77.70" y2="568.00" stroke="#2a2a2a" stroke-width="1"/>
<text class="tk" text-anchor="middle" transform="translate(77.10 583.00) rotate(0.04)">-2</text>
<line x1="97.30" y1="562.40" x2="97.30" y2="568.00" stroke="#2a2a2a" stroke-width="1"/>
<text class="tk" text-anchor="middle" transform="translate(96.70 583.00) rotate(0.04)">0</text>
<line x1="116.90" y1="562.40" x2="116.90" y2="568.00" stroke="#2a2a2a" stroke-width="1"/>
<text class="tk" text-anchor="middle" transform="translate(116.30 583.00) rotate(0.04)">2</text>
<line x1="136.50" y1="562.40" x2="136.50" y2="568.00" stroke="#2a2a2a" stroke-width="1"/>
<text class="tk" text-anchor="middle" transform="translate(135.90 583.00) rotate(0.04)">4</text>
<line x1="156.10" y1="562.40" x2="156.10" y2="568.00" stroke="#2a2a2a" stroke-width="1"/>
<text class="tk" text-anchor="middle" transform="translate(155.50 583.00) rotate(0.04)">6</text>
<path d="M30.20 562.40 L30.20 562.40 L36.91 562.40 L36.91 562.40 L43.62 562.40 L43.62 562.40 L50.33 562.40 L50.33 562.40 L57.04 562.40 L57.04 562.40 L63.75 562.40 L63.75 562.40 L70.46 562.40 L70.46 562.40 L77.17 562.40 L77.17 562.40 L84.30 562.40 L84.30 562.40 L91.00 562.40 L91.00 519.80 L97.60 519.80 L97.60 557.92 L104.30 557.92 L104.30 560.04 L110.80 560.04 L110.80 561.10 L117.67 561.10 L117.67 561.69 L124.55 561.69 L124.55 561.81 L131.43 561.81 L131.43 561.81 L138.30 561.81 L138.30 561.93 L145.18 561.93 L145.18 562.40 L152.05 562.40 L152.05 562.40 L158.93 562.40 L158.93 561.81 L165.80 561.81" fill="none" stroke="#00ffff" stroke-width="1.1" stroke-linejoin="miter"/>
<text class="tk" text-anchor="middle" transform="translate(16.50 562.40) rotate(-90)">0</text>
<text class="tk" text-anchor="middle" transform="translate(16.50 538.50) rotate(-90)">200</text>
<text class="cnt" text-anchor="middle" transform="translate(8.20 538.50) rotate(-90) scale(0.82 1)">Count</text>
<text class="tk" text-anchor="middle" transform="translate(96.60 597.00) rotate(0.04)">Column Z-Score</text>
<text class="ttl" text-anchor="middle" transform="translate(96.80 504.60) rotate(0.04)">Color Key</text>
<text class="ttl" text-anchor="middle" transform="translate(96.80 517.20) rotate(0.04)">and Histogram</text>
</g>
<text class="pan" transform="translate(-0.8 17.0) rotate(0.04)">a</text>
<text class="pan" transform="translate(1.7 514.9) rotate(0.04)">b</text>
<text class="side" text-anchor="middle" transform="translate(681.5 225) rotate(-90) scale(0.913 1)">bacterial genus</text>
<text class="side" text-anchor="middle" transform="translate(681.2 722) rotate(-90) scale(0.913 1)">fungal species</text>
</svg>
</figure>
</body>
</html>
